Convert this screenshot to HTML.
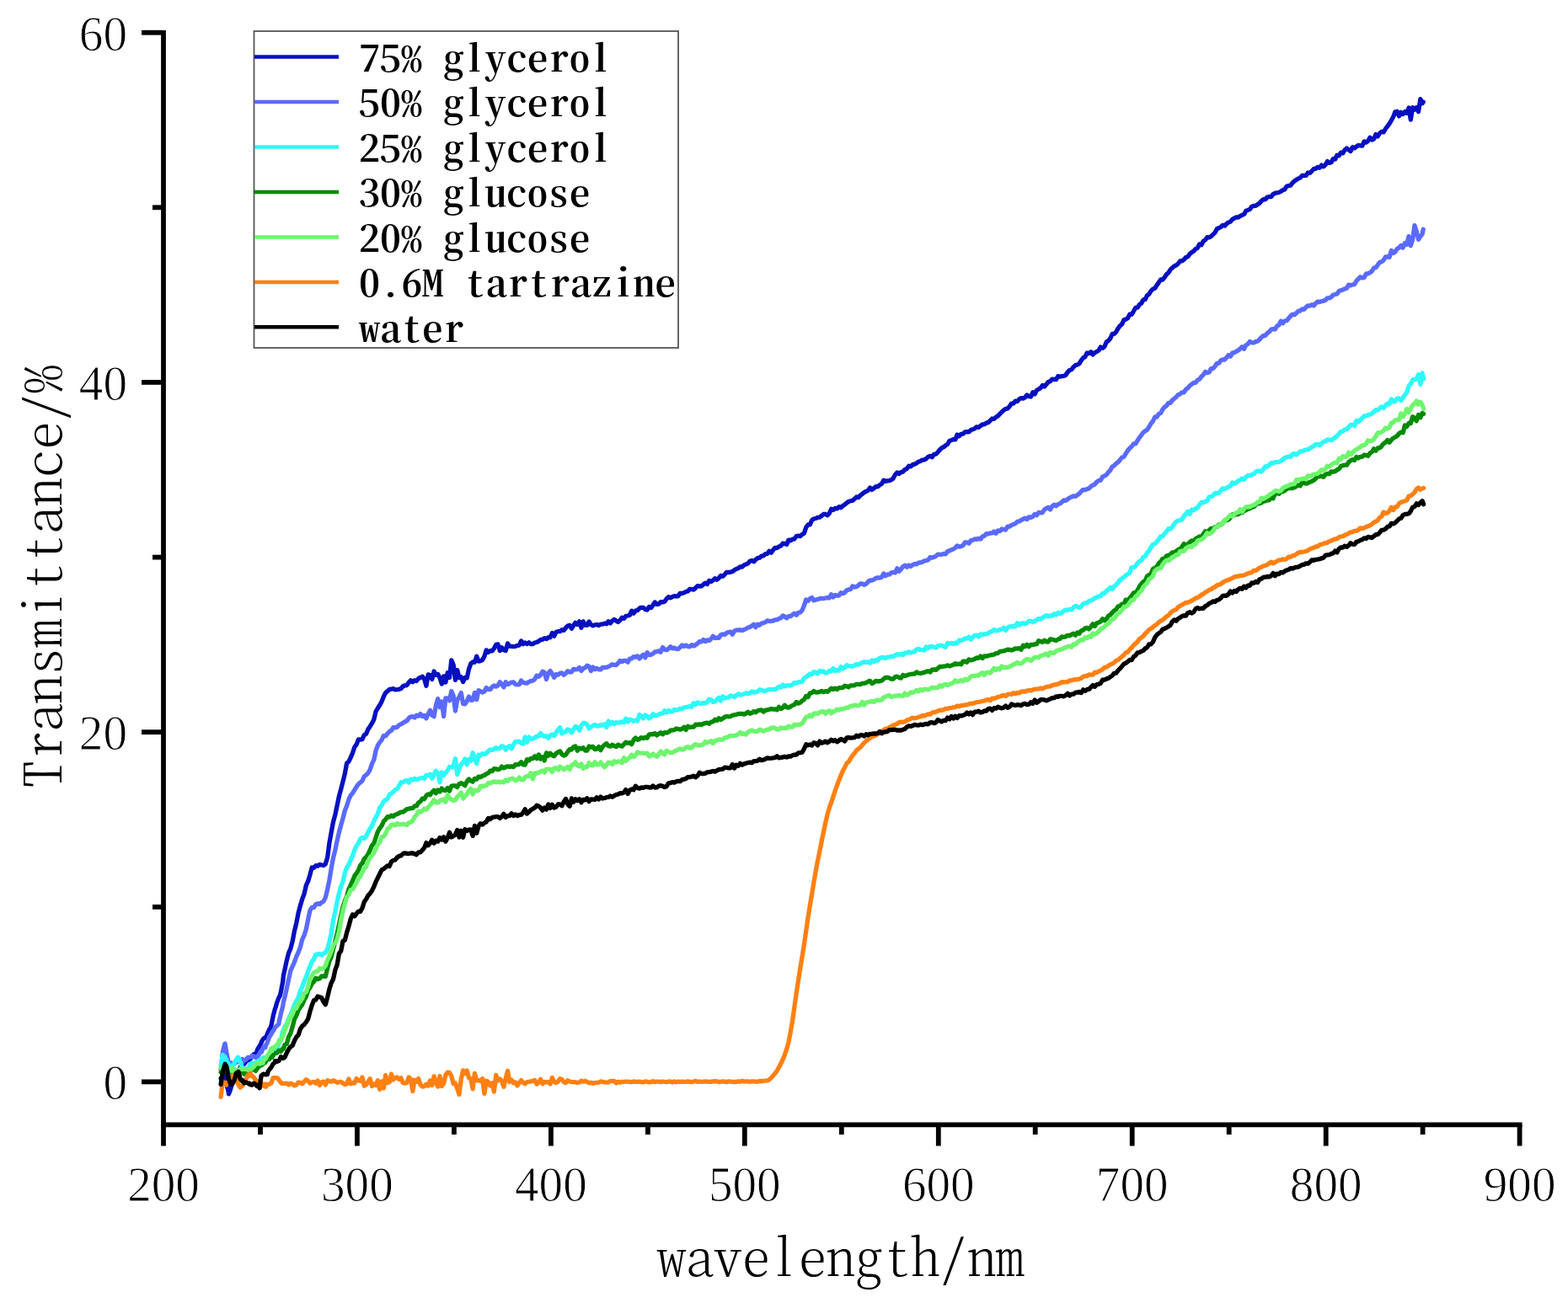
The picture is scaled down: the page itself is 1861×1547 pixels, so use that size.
<!DOCTYPE html>
<html><head><meta charset="utf-8"><title>Transmittance vs wavelength</title>
<style>
html,body{margin:0;padding:0;background:#fff;}
svg{display:block;}
.tick{font-family:"Liberation Serif","Noto Serif CJK SC",serif;fill:#000;stroke:#fff;stroke-width:1px;}
.title{font-family:"Noto Serif CJK SC","Liberation Serif",serif;font-feature-settings:"hwid";fill:#000;font-weight:250;}
.leg{font-family:"Noto Serif CJK SC","Liberation Serif",serif;font-feature-settings:"hwid";fill:#000;font-weight:600;}
</style></head><body>
<svg width="1861" height="1547" viewBox="0 0 1861 1547">
<rect width="1861" height="1547" fill="#fff"/>

<g fill="none" stroke-width="5.3" stroke-linejoin="round" stroke-linecap="round">
<polyline stroke="#0610c0" points="262.1,1280.4 264.4,1277.4 266.0,1276.7 266.7,1275.3 269.0,1287.7 271.3,1297.2 271.5,1298.8 273.6,1293.2 275.9,1284.7 277.0,1277.9 278.2,1280.1 280.5,1273.7 282.8,1271.3 285.1,1267.2 287.4,1264.1 288.0,1264.6 289.7,1263.4 292.0,1260.1 294.3,1258.5 296.6,1258.2 298.9,1254.4 301.2,1251.7 303.5,1251.9 304.5,1249.3 305.8,1245.5 308.1,1242.0 310.0,1238.6 310.4,1236.9 312.7,1233.0 315.0,1231.7 315.4,1232.2 317.3,1227.4 319.6,1222.2 320.9,1220.5 321.9,1217.7 324.2,1206.2 326.5,1197.4 327.0,1196.4 328.8,1190.1 331.1,1184.1 332.4,1181.9 333.4,1177.4 335.7,1165.3 336.4,1158.2 338.0,1151.1 340.3,1140.3 342.6,1131.3 344.9,1126.2 347.2,1117.4 349.5,1105.1 351.8,1095.8 354.1,1083.9 356.4,1075.2 358.7,1067.5 361.0,1061.4 363.3,1051.3 365.6,1046.2 367.9,1038.7 370.2,1029.9 372.5,1030.3 374.8,1027.7 377.1,1028.2 379.4,1026.4 381.7,1027.0 384.0,1027.5 386.3,1025.6 388.6,1018.3 390.9,1000.9 393.2,988.2 395.5,975.7 397.8,967.4 400.1,956.5 402.4,945.4 404.7,936.9 407.0,927.9 409.3,918.7 411.6,906.1 413.9,904.2 416.2,899.4 418.5,894.0 420.8,887.0 423.1,883.9 425.4,877.9 427.7,878.2 430.0,877.6 432.3,872.7 434.6,871.3 436.9,865.8 439.2,862.4 441.5,858.7 443.8,854.2 446.1,844.7 448.4,840.7 450.7,837.1 453.0,833.0 455.3,827.1 457.6,822.5 459.9,820.6 462.2,818.5 464.5,818.2 466.8,817.6 469.1,818.8 471.4,818.7 473.7,818.3 476.0,817.5 478.3,814.8 480.6,813.8 482.9,813.6 485.2,810.3 487.5,807.7 489.8,809.7 492.1,807.7 494.4,808.5 496.7,805.5 499.0,804.5 501.3,803.2 503.6,806.0 505.9,814.2 508.2,800.9 510.5,801.5 512.8,806.5 515.1,797.0 517.4,801.4 519.7,800.5 522.0,804.8 524.3,812.0 526.6,802.9 528.9,810.1 531.2,798.7 533.5,804.6 535.8,783.9 538.1,789.2 540.4,807.4 542.7,795.5 545.0,804.7 547.3,803.8 549.6,809.6 551.9,804.5 554.2,805.0 556.5,794.3 558.8,787.9 561.1,786.0 563.4,786.3 565.7,779.2 568.0,785.1 570.3,784.6 572.6,783.5 574.9,779.3 577.2,771.9 579.5,774.5 581.8,772.7 584.1,772.9 586.4,769.8 588.7,765.4 591.0,764.9 593.3,772.6 595.6,768.8 597.9,771.8 600.2,772.5 602.5,763.9 604.8,767.3 607.1,767.4 609.4,767.6 611.7,767.4 614.0,766.3 616.3,766.0 618.6,760.9 620.9,764.6 623.2,762.9 625.5,764.5 627.8,762.8 630.1,764.7 632.4,764.6 634.7,763.0 637.0,762.5 639.3,761.4 641.6,759.5 643.9,759.4 646.2,757.7 648.5,758.6 650.8,756.7 653.1,756.8 655.4,751.5 657.7,755.2 660.0,750.5 662.3,749.6 664.6,749.7 666.9,747.7 669.2,748.4 671.5,745.3 673.8,743.0 676.1,742.4 678.4,746.2 680.7,742.6 683.0,739.3 685.3,741.5 687.6,737.9 689.9,745.3 692.2,737.9 694.5,742.3 696.8,742.4 699.1,738.0 701.4,741.7 703.7,742.8 706.0,741.9 708.3,741.5 710.6,742.6 712.9,741.2 715.2,741.2 717.5,740.1 719.8,740.8 722.1,737.7 724.4,739.9 726.7,737.1 729.0,735.4 731.3,737.0 733.6,738.5 735.9,736.5 738.2,733.3 740.5,734.4 742.8,731.5 745.1,731.0 747.4,730.3 749.7,725.2 752.0,728.2 754.3,725.1 756.6,724.6 758.9,722.3 761.2,721.3 763.5,721.4 765.8,723.5 768.1,724.1 770.4,720.5 772.7,721.6 775.0,718.5 777.3,715.0 779.6,717.5 781.9,717.1 784.2,714.7 786.5,714.9 788.8,714.3 791.1,710.9 793.4,708.8 795.7,709.8 798.0,708.7 800.3,707.6 802.6,708.0 804.9,707.7 807.2,704.3 809.5,704.5 811.8,703.8 814.1,702.5 816.4,701.9 818.7,699.4 821.0,699.7 823.3,700.2 825.6,698.0 827.9,695.6 830.2,696.0 832.5,695.9 834.8,694.0 837.1,692.1 839.4,693.5 841.7,689.5 844.0,690.5 846.3,689.0 848.6,686.7 850.9,688.3 853.2,686.3 855.5,683.5 857.8,684.3 860.1,682.1 862.4,679.3 864.7,679.5 867.0,679.3 869.3,678.5 871.6,676.8 873.9,675.5 876.2,674.8 878.5,672.8 880.8,673.2 883.1,670.9 885.4,669.9 887.7,669.1 890.0,666.2 892.3,665.5 894.6,666.8 896.9,664.4 899.2,662.6 901.5,662.2 903.8,660.1 906.1,659.8 908.4,657.6 910.7,657.5 913.0,654.2 915.3,656.2 917.6,652.9 919.9,650.4 922.2,650.6 924.5,649.0 926.8,648.1 929.1,645.2 931.4,645.5 933.7,646.4 936.0,641.1 938.3,641.8 940.6,640.2 942.9,639.8 945.2,636.6 947.5,636.2 949.8,636.6 952.1,634.4 954.4,633.1 956.7,626.1 959.0,623.0 961.3,622.9 963.6,617.7 965.9,616.0 968.2,615.5 970.5,614.3 972.8,614.2 975.1,612.4 977.4,610.4 979.7,610.5 982.0,611.8 984.3,609.5 986.6,604.3 988.9,605.5 991.2,603.5 993.5,603.8 995.8,601.7 998.1,602.7 1000.4,600.4 1002.7,599.0 1005.0,597.0 1007.3,595.5 1009.6,594.6 1011.9,594.4 1014.2,592.3 1016.5,590.0 1018.8,590.6 1021.1,588.1 1023.4,586.5 1025.7,584.5 1028.0,583.5 1030.3,582.2 1032.6,579.0 1034.9,581.5 1037.2,579.7 1039.5,577.6 1041.8,577.8 1044.1,575.8 1046.4,574.5 1048.7,570.2 1051.0,571.3 1053.3,570.8 1055.6,570.7 1057.9,569.6 1060.2,567.8 1062.5,563.5 1064.8,561.0 1067.1,562.6 1069.4,560.6 1071.7,560.1 1074.0,557.5 1076.3,556.5 1078.6,553.2 1080.9,553.9 1083.2,551.6 1085.5,551.2 1087.8,550.0 1090.1,548.2 1092.4,547.5 1094.7,546.1 1097.0,545.9 1099.3,544.6 1101.6,542.4 1103.9,541.3 1106.2,542.7 1108.5,539.4 1110.8,539.2 1113.1,536.9 1115.4,534.0 1117.7,531.8 1120.0,530.8 1122.3,528.9 1124.6,527.4 1126.9,523.5 1129.2,522.6 1131.5,521.6 1133.8,521.9 1136.1,516.1 1138.4,517.8 1140.7,515.3 1143.0,515.1 1145.3,512.8 1147.6,512.6 1149.9,512.8 1152.2,510.6 1154.5,509.8 1156.8,508.9 1159.1,506.8 1161.4,507.4 1163.7,505.7 1166.0,504.0 1168.3,503.7 1170.6,502.2 1172.9,501.7 1175.2,499.3 1177.5,497.0 1179.8,497.5 1182.1,495.2 1184.4,493.8 1186.7,491.4 1189.0,489.0 1191.3,487.0 1193.6,485.4 1195.9,485.1 1198.2,482.5 1200.5,479.1 1202.8,479.2 1205.1,476.2 1207.4,476.6 1209.7,473.9 1212.0,472.7 1214.3,473.1 1216.6,471.8 1218.9,469.0 1221.2,470.6 1223.5,471.0 1225.8,465.7 1228.1,467.9 1230.4,463.5 1232.7,462.1 1235.0,460.7 1237.3,457.5 1239.6,458.9 1241.9,456.3 1244.2,453.5 1246.5,452.7 1248.8,450.1 1251.1,450.3 1253.4,450.7 1255.7,446.7 1258.0,447.1 1260.3,446.6 1262.6,446.4 1264.9,445.3 1267.2,441.7 1269.5,439.5 1271.8,438.7 1274.1,435.7 1276.4,433.6 1278.7,433.0 1281.0,431.7 1283.3,427.8 1285.6,424.9 1287.9,423.6 1290.2,419.0 1292.5,419.7 1294.8,417.8 1297.1,421.0 1299.4,418.7 1301.7,417.5 1304.0,416.1 1306.3,412.1 1308.6,413.2 1310.9,411.6 1313.2,406.0 1315.5,404.5 1317.8,401.7 1320.1,396.5 1322.4,396.4 1324.7,394.0 1327.0,389.9 1329.3,386.8 1331.6,384.9 1333.9,379.7 1336.2,379.1 1338.5,377.8 1340.8,373.1 1343.1,373.3 1345.4,369.6 1347.7,365.4 1350.0,365.2 1352.3,361.6 1354.6,360.3 1356.9,355.9 1359.2,355.5 1361.5,350.7 1363.8,349.2 1366.1,345.4 1368.4,343.1 1370.7,342.2 1373.0,338.6 1375.3,335.4 1377.6,331.9 1379.9,332.1 1382.2,329.2 1384.5,325.7 1386.8,323.9 1389.1,320.2 1391.4,317.9 1393.7,315.9 1396.0,315.0 1398.3,313.0 1400.6,310.0 1402.9,309.8 1405.2,308.1 1407.5,305.6 1409.8,304.8 1412.1,301.4 1414.4,299.6 1416.7,298.2 1419.0,295.5 1421.3,294.3 1423.6,289.9 1425.9,290.8 1428.2,286.3 1430.5,285.0 1432.8,281.7 1435.1,281.8 1437.4,280.6 1439.7,278.4 1442.0,276.2 1444.3,271.8 1446.6,270.8 1448.9,269.5 1451.2,267.3 1453.5,268.1 1455.8,265.6 1458.1,264.0 1460.4,263.2 1462.7,260.3 1465.0,259.1 1467.3,257.8 1469.6,258.0 1471.9,256.5 1474.2,255.3 1476.5,254.4 1478.8,250.2 1481.1,249.4 1483.4,248.5 1485.7,245.2 1488.0,244.4 1490.3,244.4 1492.6,242.8 1494.9,241.2 1497.2,238.5 1499.5,236.7 1501.8,236.8 1504.1,234.0 1506.4,233.6 1508.7,233.5 1511.0,230.6 1513.3,229.3 1515.6,228.9 1517.9,228.5 1520.2,227.2 1522.5,225.7 1524.8,224.9 1527.1,221.2 1529.4,220.5 1531.7,220.1 1534.0,217.2 1536.3,215.0 1538.6,213.4 1540.9,212.0 1543.2,211.1 1545.5,208.5 1547.8,208.3 1550.1,208.4 1552.4,205.0 1554.7,205.4 1557.0,203.1 1559.3,200.4 1561.6,200.3 1563.9,198.4 1566.2,199.3 1568.5,196.1 1570.8,197.7 1573.1,195.7 1575.4,191.6 1577.7,193.4 1580.0,192.8 1582.3,188.6 1584.6,189.0 1586.9,184.2 1589.2,184.8 1591.5,181.1 1593.8,181.8 1596.1,177.9 1598.4,175.9 1600.7,177.9 1603.0,179.5 1605.3,174.7 1607.6,175.8 1609.9,174.0 1612.2,172.5 1614.5,172.8 1616.8,173.1 1619.1,167.9 1621.4,169.0 1623.7,167.3 1626.0,163.3 1628.3,166.0 1630.6,165.0 1632.9,159.6 1635.2,161.9 1637.5,158.2 1639.8,156.3 1642.1,156.8 1644.4,153.0 1646.7,149.9 1649.0,146.9 1651.3,143.0 1653.6,138.8 1655.9,132.8 1658.2,132.2 1660.5,137.9 1662.8,133.3 1665.1,135.5 1667.4,132.6 1669.7,134.3 1672.0,128.1 1674.3,142.1 1676.6,127.7 1678.9,130.1 1681.2,127.6 1683.5,132.6 1685.8,117.7 1688.1,122.7 1689.2,121.0"/>
<polyline stroke="#5a6aff" points="262.1,1269.5 264.4,1248.6 266.7,1239.3 267.1,1239.1 269.0,1250.6 271.3,1262.2 271.5,1263.1 273.6,1261.9 275.9,1262.6 278.2,1263.1 280.0,1261.0 280.5,1261.5 282.8,1257.5 285.1,1259.6 287.4,1257.5 288.0,1260.9 289.7,1259.0 292.0,1257.9 294.3,1255.3 296.6,1255.2 298.9,1254.9 299.0,1253.5 301.2,1254.0 303.5,1255.7 304.5,1255.2 305.8,1254.3 308.1,1250.8 309.3,1248.3 310.4,1249.0 312.7,1243.2 315.0,1243.7 315.4,1241.1 317.3,1237.7 319.6,1231.4 321.9,1227.8 322.9,1225.7 324.2,1224.1 326.5,1219.9 328.8,1217.5 331.0,1215.5 331.1,1213.3 333.4,1203.4 335.7,1194.4 336.4,1189.8 338.0,1183.8 340.3,1173.7 342.6,1162.8 344.9,1152.4 347.2,1147.2 349.5,1142.1 351.8,1135.6 354.1,1130.7 356.4,1124.5 358.7,1115.3 361.0,1110.6 363.3,1103.3 365.6,1091.9 367.9,1081.1 370.2,1077.4 372.5,1077.3 374.8,1073.5 377.1,1072.8 379.4,1073.5 381.7,1071.3 384.0,1070.1 386.3,1065.6 388.6,1056.1 390.9,1045.0 393.2,1030.9 395.5,1018.5 397.8,1009.3 400.1,998.3 402.4,988.0 404.7,979.5 407.0,971.5 409.3,962.5 411.6,956.8 413.9,949.2 416.2,944.3 418.5,941.7 420.8,937.8 423.1,934.1 425.4,931.0 427.7,928.9 430.0,926.9 432.3,921.8 434.6,920.0 436.9,917.8 439.2,913.8 441.5,906.6 443.8,902.1 446.1,891.2 448.4,884.9 450.7,881.4 453.0,878.6 455.3,873.5 457.6,873.9 459.9,871.0 462.2,868.5 464.5,867.4 466.8,863.7 469.1,863.9 471.4,863.3 473.7,860.8 476.0,859.7 478.3,858.4 480.6,856.8 482.9,855.8 485.2,852.7 487.5,850.9 489.8,850.7 492.1,852.1 494.4,849.3 496.7,850.1 499.0,847.6 501.3,850.5 503.6,849.4 505.9,852.9 508.2,847.4 510.5,843.2 512.8,849.3 515.1,850.6 517.4,837.4 519.7,829.6 522.0,839.7 524.3,833.0 526.6,850.5 528.9,828.8 531.2,829.1 533.5,831.9 535.8,820.6 538.1,826.0 540.4,844.0 542.7,831.1 545.0,827.5 547.3,822.6 549.6,835.6 551.9,835.8 554.2,832.4 556.5,827.1 558.8,831.3 561.1,831.0 563.4,822.4 565.7,830.6 568.0,819.8 570.3,820.8 572.6,822.0 574.9,820.9 577.2,816.5 579.5,818.4 581.8,818.6 584.1,815.6 586.4,814.0 588.7,815.1 591.0,813.9 593.3,809.9 595.6,812.1 597.9,815.8 600.2,809.7 602.5,812.6 604.8,811.5 607.1,810.1 609.4,809.8 611.7,812.5 614.0,812.9 616.3,812.7 618.6,808.0 620.9,810.3 623.2,810.8 625.5,811.1 627.8,809.4 630.1,808.6 632.4,808.1 634.7,806.4 637.0,802.0 639.3,803.3 641.6,801.2 643.9,797.2 646.2,798.4 648.5,806.5 650.8,799.2 653.1,796.5 655.4,799.9 657.7,804.3 660.0,800.6 662.3,801.2 664.6,799.3 666.9,799.0 669.2,801.3 671.5,799.4 673.8,796.7 676.1,798.0 678.4,797.7 680.7,794.3 683.0,794.9 685.3,794.6 687.6,792.5 689.9,796.5 692.2,793.6 694.5,792.6 696.8,790.3 699.1,791.2 701.4,796.5 703.7,792.1 706.0,794.7 708.3,793.4 710.6,794.8 712.9,794.9 715.2,792.3 717.5,792.5 719.8,792.4 722.1,791.5 724.4,790.3 726.7,788.8 729.0,789.3 731.3,789.5 733.6,787.3 735.9,784.4 738.2,785.6 740.5,784.4 742.8,784.4 745.1,786.1 747.4,782.1 749.7,781.8 752.0,779.7 754.3,780.1 756.6,779.0 758.9,782.0 761.2,779.3 763.5,777.2 765.8,780.7 768.1,774.7 770.4,777.7 772.7,777.3 775.0,776.0 777.3,774.0 779.6,773.7 781.9,772.8 784.2,774.2 786.5,768.6 788.8,771.1 791.1,771.8 793.4,770.2 795.7,767.7 798.0,769.9 800.3,769.1 802.6,770.3 804.9,770.6 807.2,768.6 809.5,766.0 811.8,767.4 814.1,766.1 816.4,767.3 818.7,767.8 821.0,765.6 823.3,766.9 825.6,765.6 827.9,764.0 830.2,761.6 832.5,762.0 834.8,759.6 837.1,761.6 839.4,759.8 841.7,760.5 844.0,758.5 846.3,755.4 848.6,757.5 850.9,757.2 853.2,757.3 855.5,753.7 857.8,753.0 860.1,753.4 862.4,751.5 864.7,750.5 867.0,750.1 869.3,753.1 871.6,749.2 873.9,748.1 876.2,748.0 878.5,747.8 880.8,748.6 883.1,747.5 885.4,746.6 887.7,745.1 890.0,744.6 892.3,743.0 894.6,741.4 896.9,744.6 899.2,741.2 901.5,742.2 903.8,740.0 906.1,739.6 908.4,738.8 910.7,736.8 913.0,737.5 915.3,737.3 917.6,737.0 919.9,735.9 922.2,735.9 924.5,734.5 926.8,733.7 929.1,731.0 931.4,732.0 933.7,733.8 936.0,731.6 938.3,731.6 940.6,729.7 942.9,728.3 945.2,730.3 947.5,727.3 949.8,727.1 952.1,724.5 954.4,718.8 956.7,711.9 959.0,713.4 961.3,710.9 963.6,709.6 965.9,712.9 968.2,712.0 970.5,711.6 972.8,710.7 975.1,710.3 977.4,710.6 979.7,710.0 982.0,709.6 984.3,709.9 986.6,705.8 988.9,708.9 991.2,706.5 993.5,707.3 995.8,706.8 998.1,703.7 1000.4,704.5 1002.7,703.5 1005.0,700.8 1007.3,700.0 1009.6,699.7 1011.9,696.0 1014.2,697.0 1016.5,696.7 1018.8,695.0 1021.1,692.8 1023.4,693.2 1025.7,694.4 1028.0,693.2 1030.3,690.7 1032.6,689.0 1034.9,689.0 1037.2,688.1 1039.5,686.4 1041.8,685.9 1044.1,686.0 1046.4,685.4 1048.7,680.9 1051.0,683.7 1053.3,681.8 1055.6,682.1 1057.9,679.9 1060.2,679.5 1062.5,680.0 1064.8,674.7 1067.1,678.2 1069.4,675.8 1071.7,672.7 1074.0,671.3 1076.3,673.3 1078.6,671.0 1080.9,672.4 1083.2,670.7 1085.5,669.5 1087.8,669.9 1090.1,668.2 1092.4,668.0 1094.7,667.3 1097.0,665.9 1099.3,665.6 1101.6,664.8 1103.9,661.7 1106.2,662.1 1108.5,661.4 1110.8,660.3 1113.1,658.1 1115.4,658.3 1117.7,658.4 1120.0,657.4 1122.3,657.9 1124.6,654.6 1126.9,653.9 1129.2,652.7 1131.5,651.9 1133.8,650.4 1136.1,647.9 1138.4,649.1 1140.7,648.6 1143.0,647.5 1145.3,644.0 1147.6,643.9 1149.9,645.1 1152.2,641.9 1154.5,641.4 1156.8,639.9 1159.1,640.3 1161.4,639.3 1163.7,640.0 1166.0,637.1 1168.3,636.3 1170.6,633.7 1172.9,633.9 1175.2,633.0 1177.5,632.8 1179.8,631.1 1182.1,633.2 1184.4,630.0 1186.7,630.6 1189.0,628.0 1191.3,628.7 1193.6,629.0 1195.9,625.1 1198.2,625.1 1200.5,623.4 1202.8,622.6 1205.1,621.6 1207.4,619.4 1209.7,618.9 1212.0,617.5 1214.3,616.4 1216.6,615.1 1218.9,616.6 1221.2,613.8 1223.5,614.4 1225.8,613.3 1228.1,610.5 1230.4,611.7 1232.7,608.4 1235.0,608.8 1237.3,608.5 1239.6,604.9 1241.9,603.5 1244.2,602.4 1246.5,605.0 1248.8,601.1 1251.1,599.2 1253.4,600.7 1255.7,598.7 1258.0,598.0 1260.3,596.1 1262.6,593.8 1264.9,594.3 1267.2,592.8 1269.5,590.9 1271.8,590.1 1274.1,588.8 1276.4,589.3 1278.7,587.7 1281.0,586.0 1283.3,583.4 1285.6,581.3 1287.9,581.7 1290.2,580.6 1292.5,579.9 1294.8,577.5 1297.1,576.0 1299.4,575.0 1301.7,572.1 1304.0,570.6 1306.3,570.2 1308.6,566.0 1310.9,565.1 1313.2,563.7 1315.5,560.6 1317.8,558.3 1320.1,554.1 1322.4,552.8 1324.7,550.2 1327.0,548.7 1329.3,546.0 1331.6,543.0 1333.9,542.5 1336.2,538.5 1338.5,535.0 1340.8,532.1 1343.1,530.2 1345.4,527.0 1347.7,526.9 1350.0,523.2 1352.3,519.6 1354.6,516.6 1356.9,513.5 1359.2,511.6 1361.5,510.4 1363.8,506.8 1366.1,502.8 1368.4,500.0 1370.7,495.0 1373.0,495.1 1375.3,491.4 1377.6,490.5 1379.9,486.1 1382.2,483.3 1384.5,481.6 1386.8,478.4 1389.1,478.4 1391.4,475.1 1393.7,473.2 1396.0,471.3 1398.3,468.7 1400.6,467.9 1402.9,465.8 1405.2,465.8 1407.5,462.2 1409.8,460.7 1412.1,458.0 1414.4,456.2 1416.7,454.5 1419.0,454.4 1421.3,451.2 1423.6,450.3 1425.9,447.1 1428.2,445.1 1430.5,441.5 1432.8,442.6 1435.1,442.0 1437.4,437.6 1439.7,437.5 1442.0,435.0 1444.3,431.5 1446.6,431.4 1448.9,427.9 1451.2,426.9 1453.5,427.1 1455.8,424.5 1458.1,421.6 1460.4,423.1 1462.7,419.0 1465.0,418.7 1467.3,417.1 1469.6,416.0 1471.9,414.0 1474.2,411.7 1476.5,414.2 1478.8,409.8 1481.1,408.5 1483.4,405.4 1485.7,406.9 1488.0,406.8 1490.3,405.6 1492.6,405.2 1494.9,403.0 1497.2,400.3 1499.5,398.5 1501.8,398.5 1504.1,395.4 1506.4,394.0 1508.7,391.1 1511.0,390.6 1513.3,391.0 1515.6,387.1 1517.9,385.9 1520.2,381.2 1522.5,383.7 1524.8,381.1 1527.1,380.7 1529.4,378.0 1531.7,375.3 1534.0,373.2 1536.3,373.8 1538.6,371.8 1540.9,369.3 1543.2,369.0 1545.5,367.0 1547.8,367.3 1550.1,364.8 1552.4,362.8 1554.7,363.1 1557.0,361.6 1559.3,362.9 1561.6,360.0 1563.9,358.2 1566.2,358.7 1568.5,357.6 1570.8,357.3 1573.1,356.3 1575.4,353.9 1577.7,353.9 1580.0,352.6 1582.3,350.2 1584.6,349.5 1586.9,349.0 1589.2,345.6 1591.5,344.8 1593.8,344.0 1596.1,342.9 1598.4,342.1 1600.7,338.1 1603.0,338.9 1605.3,337.9 1607.6,337.6 1609.9,333.4 1612.2,331.2 1614.5,328.7 1616.8,330.0 1619.1,329.4 1621.4,325.0 1623.7,324.9 1626.0,323.7 1628.3,322.0 1630.6,318.2 1632.9,317.7 1635.2,314.6 1637.5,311.3 1639.8,310.8 1642.1,308.9 1644.4,305.0 1646.7,305.0 1649.0,305.4 1651.3,297.5 1653.6,300.4 1655.9,299.0 1658.2,295.3 1660.5,294.2 1662.8,291.6 1665.1,294.1 1667.4,288.6 1669.7,290.2 1672.0,280.7 1674.3,291.6 1676.6,284.5 1678.9,267.7 1681.2,274.6 1683.5,284.4 1685.8,280.7 1688.1,277.8 1689.2,272.3"/>
<polyline stroke="#2ef8f8" points="262.1,1264.5 264.4,1252.4 266.0,1255.3 266.7,1254.4 269.0,1259.7 271.3,1263.6 273.6,1269.0 274.2,1266.7 275.9,1264.8 278.2,1262.3 280.5,1257.9 282.5,1255.2 282.8,1255.4 285.1,1260.6 287.4,1267.2 289.7,1270.7 290.7,1271.5 292.0,1268.9 294.3,1270.4 296.6,1263.6 298.9,1263.1 299.0,1261.8 301.2,1263.1 303.5,1262.0 305.8,1259.9 308.1,1261.1 310.0,1257.2 310.4,1260.1 312.7,1255.5 315.0,1257.0 317.3,1256.8 319.6,1254.2 320.9,1252.5 321.9,1251.1 324.2,1249.5 326.5,1248.7 328.8,1245.0 331.0,1239.6 331.1,1238.1 333.4,1234.4 335.7,1224.0 336.4,1223.3 338.0,1218.9 340.3,1215.4 342.6,1209.4 344.9,1204.6 347.2,1199.2 349.5,1192.6 351.8,1188.7 354.1,1184.2 356.4,1176.5 358.7,1171.6 361.0,1164.8 363.3,1160.2 365.6,1153.3 367.9,1147.5 370.2,1141.6 372.5,1138.6 374.8,1133.3 377.1,1133.0 379.4,1132.4 381.7,1134.0 384.0,1132.0 386.3,1130.8 388.6,1126.6 390.9,1118.1 393.2,1108.0 395.5,1092.9 397.8,1082.5 400.1,1070.6 402.4,1060.4 404.7,1052.2 407.0,1046.7 409.3,1036.4 411.6,1029.8 413.9,1026.7 416.2,1021.0 418.5,1015.9 420.8,1009.1 423.1,1004.3 425.4,1001.1 427.7,996.0 430.0,994.3 432.3,995.4 434.6,992.8 436.9,988.1 439.2,983.8 441.5,980.4 443.8,974.7 446.1,970.2 448.4,966.2 450.7,958.9 453.0,956.1 455.3,951.6 457.6,949.7 459.9,948.5 462.2,943.4 464.5,942.2 466.8,940.0 469.1,937.7 471.4,936.5 473.7,933.1 476.0,928.7 478.3,928.8 480.6,927.2 482.9,926.4 485.2,929.1 487.5,925.1 489.8,926.0 492.1,924.4 494.4,925.7 496.7,924.7 499.0,924.0 501.3,923.4 503.6,924.3 505.9,920.6 508.2,920.7 510.5,919.3 512.8,924.2 515.1,919.4 517.4,915.4 519.7,917.4 522.0,928.8 524.3,917.0 526.6,920.3 528.9,917.6 531.2,914.5 533.5,910.5 535.8,911.0 538.1,909.9 540.4,900.7 542.7,919.7 545.0,912.3 547.3,907.5 549.6,904.9 551.9,901.1 554.2,907.6 556.5,901.4 558.8,903.1 561.1,893.8 563.4,900.5 565.7,906.6 568.0,896.3 570.3,896.9 572.6,894.7 574.9,895.4 577.2,894.3 579.5,891.9 581.8,890.0 584.1,890.5 586.4,889.4 588.7,887.7 591.0,888.8 593.3,888.3 595.6,885.8 597.9,886.6 600.2,890.1 602.5,887.3 604.8,885.8 607.1,888.9 609.4,884.0 611.7,880.6 614.0,880.7 616.3,880.5 618.6,882.3 620.9,883.1 623.2,875.1 625.5,881.3 627.8,875.1 630.1,877.3 632.4,876.8 634.7,875.9 637.0,874.2 639.3,874.0 641.6,870.6 643.9,873.2 646.2,874.3 648.5,873.7 650.8,876.4 653.1,873.2 655.4,872.0 657.7,873.7 660.0,870.1 662.3,866.3 664.6,863.7 666.9,871.0 669.2,868.9 671.5,869.0 673.8,865.9 676.1,866.9 678.4,869.8 680.7,866.0 683.0,862.4 685.3,863.5 687.6,867.2 689.9,861.5 692.2,858.5 694.5,858.4 696.8,860.4 699.1,864.9 701.4,863.1 703.7,861.5 706.0,860.4 708.3,862.1 710.6,861.8 712.9,860.8 715.2,861.0 717.5,859.7 719.8,863.5 722.1,856.1 724.4,859.7 726.7,857.3 729.0,859.6 731.3,857.6 733.6,858.0 735.9,857.8 738.2,856.8 740.5,857.7 742.8,853.2 745.1,856.6 747.4,854.2 749.7,854.8 752.0,856.2 754.3,855.0 756.6,856.0 758.9,848.6 761.2,850.2 763.5,853.0 765.8,849.1 768.1,850.3 770.4,853.0 772.7,851.2 775.0,847.7 777.3,849.6 779.6,849.4 781.9,848.0 784.2,847.2 786.5,847.1 788.8,843.8 791.1,845.9 793.4,843.5 795.7,845.2 798.0,844.7 800.3,842.4 802.6,843.4 804.9,842.5 807.2,841.5 809.5,841.7 811.8,840.0 814.1,839.5 816.4,839.3 818.7,838.5 821.0,839.3 823.3,834.8 825.6,836.5 827.9,834.0 830.2,835.1 832.5,835.3 834.8,834.4 837.1,834.9 839.4,833.6 841.7,830.2 844.0,830.9 846.3,833.3 848.6,832.8 850.9,830.7 853.2,828.4 855.5,832.0 857.8,826.8 860.1,829.0 862.4,828.1 864.7,828.0 867.0,826.0 869.3,826.4 871.6,827.6 873.9,825.4 876.2,824.0 878.5,825.0 880.8,824.7 883.1,824.0 885.4,822.8 887.7,823.8 890.0,822.6 892.3,821.0 894.6,822.1 896.9,821.4 899.2,821.2 901.5,818.7 903.8,819.3 906.1,820.2 908.4,820.3 910.7,819.2 913.0,818.5 915.3,818.6 917.6,818.4 919.9,818.8 922.2,816.9 924.5,815.4 926.8,816.1 929.1,813.1 931.4,814.9 933.7,813.9 936.0,813.9 938.3,813.9 940.6,812.9 942.9,810.6 945.2,811.1 947.5,809.8 949.8,809.7 952.1,809.1 954.4,805.1 956.7,803.6 959.0,802.4 961.3,800.0 963.6,800.5 965.9,797.6 968.2,798.3 970.5,799.7 972.8,796.4 975.1,797.6 977.4,796.9 979.7,798.9 982.0,798.6 984.3,796.4 986.6,796.8 988.9,793.6 991.2,796.6 993.5,795.5 995.8,796.1 998.1,791.5 1000.4,793.8 1002.7,792.5 1005.0,789.7 1007.3,790.9 1009.6,790.9 1011.9,791.3 1014.2,790.0 1016.5,788.6 1018.8,789.1 1021.1,787.9 1023.4,786.7 1025.7,785.7 1028.0,786.4 1030.3,785.8 1032.6,787.1 1034.9,784.0 1037.2,785.7 1039.5,783.7 1041.8,784.0 1044.1,781.2 1046.4,780.6 1048.7,780.7 1051.0,781.5 1053.3,780.1 1055.6,780.2 1057.9,779.2 1060.2,779.5 1062.5,778.0 1064.8,776.7 1067.1,777.3 1069.4,776.4 1071.7,777.7 1074.0,775.1 1076.3,774.9 1078.6,774.0 1080.9,775.1 1083.2,774.3 1085.5,773.6 1087.8,771.0 1090.1,770.2 1092.4,771.7 1094.7,771.7 1097.0,772.1 1099.3,768.1 1101.6,769.5 1103.9,767.4 1106.2,767.7 1108.5,768.1 1110.8,769.0 1113.1,766.9 1115.4,766.3 1117.7,766.2 1120.0,767.5 1122.3,768.2 1124.6,763.4 1126.9,764.2 1129.2,763.5 1131.5,764.6 1133.8,763.1 1136.1,763.7 1138.4,760.2 1140.7,760.6 1143.0,759.3 1145.3,757.9 1147.6,758.2 1149.9,756.3 1152.2,759.2 1154.5,756.6 1156.8,754.3 1159.1,754.1 1161.4,756.0 1163.7,752.9 1166.0,753.6 1168.3,752.9 1170.6,752.9 1172.9,751.8 1175.2,750.3 1177.5,749.4 1179.8,747.5 1182.1,748.9 1184.4,748.5 1186.7,747.4 1189.0,747.1 1191.3,745.4 1193.6,748.5 1195.9,745.0 1198.2,743.8 1200.5,743.6 1202.8,743.4 1205.1,743.8 1207.4,739.7 1209.7,742.2 1212.0,740.2 1214.3,740.0 1216.6,740.6 1218.9,739.6 1221.2,737.3 1223.5,737.3 1225.8,738.7 1228.1,737.4 1230.4,736.2 1232.7,734.5 1235.0,734.9 1237.3,733.6 1239.6,731.9 1241.9,730.7 1244.2,731.8 1246.5,731.0 1248.8,731.2 1251.1,728.7 1253.4,730.1 1255.7,727.5 1258.0,728.6 1260.3,727.2 1262.6,725.2 1264.9,724.1 1267.2,724.3 1269.5,723.3 1271.8,723.9 1274.1,721.2 1276.4,719.5 1278.7,720.2 1281.0,721.4 1283.3,720.1 1285.6,716.7 1287.9,716.0 1290.2,715.7 1292.5,713.6 1294.8,713.0 1297.1,711.9 1299.4,709.9 1301.7,709.2 1304.0,708.1 1306.3,707.6 1308.6,704.6 1310.9,704.4 1313.2,701.5 1315.5,699.8 1317.8,697.5 1320.1,699.4 1322.4,696.2 1324.7,694.3 1327.0,691.8 1329.3,688.6 1331.6,687.0 1333.9,685.2 1336.2,683.3 1338.5,681.4 1340.8,680.2 1343.1,673.7 1345.4,673.4 1347.7,672.3 1350.0,668.6 1352.3,666.3 1354.6,665.5 1356.9,661.5 1359.2,660.6 1361.5,656.1 1363.8,653.8 1366.1,649.8 1368.4,646.2 1370.7,645.4 1373.0,643.4 1375.3,640.4 1377.6,636.8 1379.9,636.6 1382.2,633.5 1384.5,631.0 1386.8,627.7 1389.1,628.0 1391.4,625.5 1393.7,622.0 1396.0,619.4 1398.3,617.9 1400.6,617.7 1402.9,616.7 1405.2,612.4 1407.5,610.4 1409.8,607.3 1412.1,610.4 1414.4,605.0 1416.7,605.7 1419.0,603.7 1421.3,603.0 1423.6,599.0 1425.9,596.5 1428.2,596.8 1430.5,595.5 1432.8,594.6 1435.1,589.9 1437.4,589.7 1439.7,588.3 1442.0,585.6 1444.3,585.5 1446.6,585.1 1448.9,582.7 1451.2,579.8 1453.5,580.3 1455.8,579.5 1458.1,577.9 1460.4,576.9 1462.7,572.9 1465.0,574.0 1467.3,573.0 1469.6,570.8 1471.9,570.0 1474.2,568.1 1476.5,569.2 1478.8,566.4 1481.1,564.6 1483.4,564.7 1485.7,563.4 1488.0,562.9 1490.3,560.1 1492.6,559.1 1494.9,559.1 1497.2,560.0 1499.5,556.9 1501.8,553.7 1504.1,554.2 1506.4,552.0 1508.7,549.7 1511.0,549.8 1513.3,548.7 1515.6,548.6 1517.9,548.5 1520.2,547.2 1522.5,545.7 1524.8,543.3 1527.1,543.0 1529.4,541.8 1531.7,542.5 1534.0,539.3 1536.3,538.5 1538.6,539.9 1540.9,538.0 1543.2,535.9 1545.5,535.7 1547.8,534.8 1550.1,533.9 1552.4,533.7 1554.7,532.3 1557.0,530.8 1559.3,529.6 1561.6,527.3 1563.9,527.7 1566.2,528.5 1568.5,526.4 1570.8,524.4 1573.1,523.8 1575.4,522.0 1577.7,522.1 1580.0,522.8 1582.3,521.3 1584.6,519.4 1586.9,517.6 1589.2,515.0 1591.5,512.3 1593.8,512.1 1596.1,509.9 1598.4,509.6 1600.7,507.2 1603.0,504.5 1605.3,504.3 1607.6,505.4 1609.9,499.5 1612.2,500.9 1614.5,498.7 1616.8,496.3 1619.1,494.0 1621.4,493.8 1623.7,492.7 1626.0,492.2 1628.3,490.9 1630.6,489.1 1632.9,486.6 1635.2,486.9 1637.5,484.8 1639.8,482.9 1642.1,484.5 1644.4,481.2 1646.7,479.2 1649.0,479.7 1651.3,474.0 1653.6,476.8 1655.9,476.5 1658.2,473.1 1660.5,473.0 1662.8,475.6 1665.1,472.1 1667.4,469.0 1669.7,465.9 1672.0,458.3 1674.3,455.8 1676.6,451.1 1678.9,450.3 1681.2,450.0 1683.5,444.8 1685.8,456.3 1688.1,442.9 1689.6,449.8"/>
<polyline stroke="#008a00" points="262.1,1273.0 264.4,1270.7 266.7,1269.8 268.6,1268.8 269.0,1271.5 271.3,1273.7 273.6,1272.0 275.9,1272.7 278.2,1273.4 280.5,1270.8 282.8,1275.2 285.1,1270.8 287.4,1272.5 289.7,1275.2 292.0,1271.8 294.3,1272.2 295.7,1271.3 296.6,1272.4 298.9,1268.5 301.2,1269.6 303.5,1271.4 305.8,1267.8 308.1,1265.5 310.4,1264.6 312.0,1263.6 312.7,1262.7 315.0,1261.5 317.3,1256.5 319.6,1257.6 321.9,1253.9 322.9,1255.1 324.2,1253.0 326.5,1250.1 328.8,1250.0 331.1,1247.2 333.4,1248.3 335.7,1244.7 336.4,1245.2 338.0,1240.2 340.3,1239.4 342.6,1230.9 344.9,1226.7 347.2,1219.1 349.5,1209.8 351.8,1205.7 354.1,1199.4 356.4,1195.9 358.7,1192.7 361.0,1187.2 363.3,1183.4 365.6,1175.7 367.9,1172.6 370.2,1168.1 372.5,1165.5 374.8,1161.4 377.1,1162.5 379.4,1161.9 381.7,1158.9 384.0,1159.1 386.3,1159.3 388.6,1149.7 390.9,1141.0 393.2,1136.1 395.5,1126.9 397.8,1117.5 400.1,1108.8 402.4,1097.8 404.7,1086.8 407.0,1076.8 409.3,1069.5 411.6,1064.0 413.9,1055.6 416.2,1050.8 418.5,1045.7 420.8,1039.9 423.1,1036.9 425.4,1033.1 427.7,1027.1 430.0,1024.9 432.3,1019.5 434.6,1017.6 436.9,1014.3 439.2,1009.1 441.5,1003.7 443.8,1001.2 446.1,994.1 448.4,987.4 450.7,983.2 453.0,980.4 455.3,975.2 457.6,972.9 459.9,969.7 462.2,970.0 464.5,968.2 466.8,969.4 469.1,967.2 471.4,966.6 473.7,965.4 476.0,964.1 478.3,964.2 480.6,962.5 482.9,960.6 485.2,960.2 487.5,959.7 489.8,959.6 492.1,957.0 494.4,956.9 496.7,952.9 499.0,951.5 501.3,948.1 503.6,948.8 505.9,944.7 508.2,942.9 510.5,943.7 512.8,940.6 515.1,938.3 517.4,941.7 519.7,938.0 522.0,940.0 524.3,936.1 526.6,938.2 528.9,938.5 531.2,935.5 533.5,939.1 535.8,933.1 538.1,932.9 540.4,932.9 542.7,934.5 545.0,930.7 547.3,929.7 549.6,930.8 551.9,932.6 554.2,927.8 556.5,925.0 558.8,927.1 561.1,928.2 563.4,924.5 565.7,925.2 568.0,922.2 570.3,922.6 572.6,921.3 574.9,920.5 577.2,918.8 579.5,917.9 581.8,915.2 584.1,915.5 586.4,912.6 588.7,912.8 591.0,913.7 593.3,912.9 595.6,910.1 597.9,911.8 600.2,910.6 602.5,909.9 604.8,910.4 607.1,909.9 609.4,910.5 611.7,907.6 614.0,907.8 616.3,907.3 618.6,904.8 620.9,907.9 623.2,908.1 625.5,901.7 627.8,902.8 630.1,900.4 632.4,900.7 634.7,897.8 637.0,900.6 639.3,895.9 641.6,901.1 643.9,898.7 646.2,902.9 648.5,893.9 650.8,897.1 653.1,894.3 655.4,896.7 657.7,897.7 660.0,894.5 662.3,893.0 664.6,891.9 666.9,895.5 669.2,897.1 671.5,896.0 673.8,892.7 676.1,889.6 678.4,890.1 680.7,886.8 683.0,886.0 685.3,891.3 687.6,888.1 689.9,889.1 692.2,887.7 694.5,891.0 696.8,891.1 699.1,886.1 701.4,887.1 703.7,886.4 706.0,889.6 708.3,889.3 710.6,886.6 712.9,890.6 715.2,886.7 717.5,884.4 719.8,882.8 722.1,885.6 724.4,886.1 726.7,884.3 729.0,885.6 731.3,886.6 733.6,884.2 735.9,885.3 738.2,886.1 740.5,883.7 742.8,881.3 745.1,882.3 747.4,881.7 749.7,883.6 752.0,878.6 754.3,876.0 756.6,878.3 758.9,877.6 761.2,875.6 763.5,876.6 765.8,875.4 768.1,876.2 770.4,872.1 772.7,871.6 775.0,872.0 777.3,870.6 779.6,872.9 781.9,871.2 784.2,869.7 786.5,871.8 788.8,869.6 791.1,870.0 793.4,869.2 795.7,867.2 798.0,866.8 800.3,866.6 802.6,865.0 804.9,865.4 807.2,866.2 809.5,865.2 811.8,863.3 814.1,866.5 816.4,862.2 818.7,863.5 821.0,863.1 823.3,863.1 825.6,860.2 827.9,860.6 830.2,859.8 832.5,860.6 834.8,859.2 837.1,858.7 839.4,858.2 841.7,859.2 844.0,857.2 846.3,856.8 848.6,854.3 850.9,855.5 853.2,852.7 855.5,854.5 857.8,853.1 860.1,851.3 862.4,850.4 864.7,850.9 867.0,850.6 869.3,849.2 871.6,848.9 873.9,848.3 876.2,847.6 878.5,847.4 880.8,847.4 883.1,848.1 885.4,847.0 887.7,845.3 890.0,847.3 892.3,846.5 894.6,844.6 896.9,845.7 899.2,843.7 901.5,843.1 903.8,842.9 906.1,845.1 908.4,843.2 910.7,843.0 913.0,842.4 915.3,841.5 917.6,842.1 919.9,841.9 922.2,842.9 924.5,839.4 926.8,841.6 929.1,840.3 931.4,837.2 933.7,839.8 936.0,840.0 938.3,838.9 940.6,837.4 942.9,836.6 945.2,833.5 947.5,835.2 949.8,834.1 952.1,831.8 954.4,830.6 956.7,826.4 959.0,827.6 961.3,822.9 963.6,822.5 965.9,820.5 968.2,821.9 970.5,822.0 972.8,821.4 975.1,820.4 977.4,821.7 979.7,820.6 982.0,821.3 984.3,819.5 986.6,817.2 988.9,818.5 991.2,817.1 993.5,818.6 995.8,816.6 998.1,816.5 1000.4,816.3 1002.7,814.2 1005.0,814.9 1007.3,815.9 1009.6,813.8 1011.9,813.8 1014.2,813.7 1016.5,812.3 1018.8,812.3 1021.1,812.6 1023.4,811.3 1025.7,811.3 1028.0,810.6 1030.3,809.1 1032.6,808.4 1034.9,811.5 1037.2,810.4 1039.5,808.3 1041.8,809.0 1044.1,808.7 1046.4,808.1 1048.7,806.2 1051.0,804.5 1053.3,804.3 1055.6,805.0 1057.9,806.3 1060.2,806.1 1062.5,803.7 1064.8,803.2 1067.1,804.5 1069.4,805.1 1071.7,801.4 1074.0,802.6 1076.3,801.8 1078.6,800.9 1080.9,800.5 1083.2,800.1 1085.5,800.0 1087.8,797.9 1090.1,799.1 1092.4,799.5 1094.7,798.9 1097.0,798.4 1099.3,797.4 1101.6,796.7 1103.9,798.0 1106.2,795.1 1108.5,794.8 1110.8,795.4 1113.1,793.5 1115.4,791.4 1117.7,791.6 1120.0,791.2 1122.3,790.9 1124.6,789.9 1126.9,790.9 1129.2,790.1 1131.5,789.2 1133.8,787.7 1136.1,788.7 1138.4,788.1 1140.7,788.8 1143.0,785.2 1145.3,785.2 1147.6,786.2 1149.9,783.0 1152.2,783.9 1154.5,783.3 1156.8,782.5 1159.1,780.8 1161.4,781.3 1163.7,779.1 1166.0,781.5 1168.3,779.0 1170.6,779.2 1172.9,778.4 1175.2,778.0 1177.5,777.4 1179.8,777.1 1182.1,775.7 1184.4,775.5 1186.7,773.7 1189.0,773.2 1191.3,772.8 1193.6,772.1 1195.9,771.1 1198.2,771.3 1200.5,772.1 1202.8,771.3 1205.1,769.8 1207.4,770.1 1209.7,769.6 1212.0,771.2 1214.3,766.3 1216.6,767.7 1218.9,765.4 1221.2,767.7 1223.5,765.5 1225.8,765.7 1228.1,764.8 1230.4,764.8 1232.7,760.8 1235.0,761.6 1237.3,762.4 1239.6,760.3 1241.9,761.8 1244.2,762.1 1246.5,758.8 1248.8,759.2 1251.1,759.8 1253.4,760.6 1255.7,759.1 1258.0,758.3 1260.3,755.9 1262.6,756.3 1264.9,755.8 1267.2,754.3 1269.5,754.8 1271.8,753.2 1274.1,752.3 1276.4,754.3 1278.7,750.9 1281.0,752.2 1283.3,748.7 1285.6,748.1 1287.9,745.8 1290.2,745.5 1292.5,746.9 1294.8,744.1 1297.1,740.8 1299.4,743.5 1301.7,739.8 1304.0,739.0 1306.3,738.1 1308.6,734.7 1310.9,736.8 1313.2,734.8 1315.5,731.1 1317.8,730.0 1320.1,727.3 1322.4,724.9 1324.7,723.4 1327.0,720.1 1329.3,719.3 1331.6,717.1 1333.9,717.8 1336.2,712.1 1338.5,713.0 1340.8,710.2 1343.1,707.3 1345.4,704.0 1347.7,704.0 1350.0,700.9 1352.3,696.4 1354.6,693.3 1356.9,690.8 1359.2,689.8 1361.5,684.1 1363.8,682.5 1366.1,681.0 1368.4,675.5 1370.7,674.2 1373.0,673.0 1375.3,668.8 1377.6,666.9 1379.9,663.3 1382.2,663.5 1384.5,660.0 1386.8,659.2 1389.1,658.4 1391.4,655.9 1393.7,656.0 1396.0,654.4 1398.3,652.6 1400.6,651.8 1402.9,649.1 1405.2,645.6 1407.5,647.6 1409.8,646.2 1412.1,643.6 1414.4,641.9 1416.7,642.8 1419.0,639.7 1421.3,638.4 1423.6,637.0 1425.9,638.7 1428.2,634.0 1430.5,630.8 1432.8,631.9 1435.1,629.5 1437.4,627.3 1439.7,627.9 1442.0,625.7 1444.3,625.7 1446.6,622.8 1448.9,622.8 1451.2,620.9 1453.5,618.3 1455.8,617.5 1458.1,617.1 1460.4,614.5 1462.7,610.9 1465.0,611.5 1467.3,610.6 1469.6,610.7 1471.9,608.3 1474.2,608.8 1476.5,606.5 1478.8,605.7 1481.1,604.4 1483.4,603.7 1485.7,602.4 1488.0,601.8 1490.3,599.4 1492.6,597.9 1494.9,597.8 1497.2,596.9 1499.5,595.1 1501.8,594.8 1504.1,593.6 1506.4,593.9 1508.7,589.3 1511.0,591.8 1513.3,586.0 1515.6,585.4 1517.9,586.4 1520.2,584.0 1522.5,583.6 1524.8,582.4 1527.1,580.5 1529.4,579.4 1531.7,579.6 1534.0,579.5 1536.3,578.8 1538.6,577.5 1540.9,576.0 1543.2,576.8 1545.5,572.2 1547.8,573.7 1550.1,574.1 1552.4,573.6 1554.7,572.2 1557.0,571.4 1559.3,570.2 1561.6,568.3 1563.9,564.8 1566.2,565.8 1568.5,565.1 1570.8,566.3 1573.1,563.2 1575.4,562.5 1577.7,562.7 1580.0,560.0 1582.3,560.2 1584.6,559.7 1586.9,557.7 1589.2,556.7 1591.5,553.5 1593.8,552.6 1596.1,552.2 1598.4,552.2 1600.7,548.6 1603.0,546.7 1605.3,545.6 1607.6,546.5 1609.9,542.6 1612.2,543.9 1614.5,542.3 1616.8,542.1 1619.1,540.2 1621.4,540.4 1623.7,541.3 1626.0,538.0 1628.3,536.6 1630.6,532.9 1632.9,535.1 1635.2,532.0 1637.5,531.8 1639.8,529.7 1642.1,526.7 1644.4,525.2 1646.7,522.5 1649.0,525.3 1651.3,522.3 1653.6,520.3 1655.9,519.0 1658.2,517.5 1660.5,514.7 1662.8,513.1 1665.1,513.7 1667.4,505.0 1669.7,506.4 1672.0,502.5 1674.3,502.7 1676.6,494.7 1678.9,496.2 1681.2,499.8 1683.5,492.5 1685.8,495.8 1688.1,490.5 1689.6,491.3"/>
<polyline stroke="#6ef56e" points="262.1,1268.0 264.4,1268.7 266.7,1270.5 269.0,1269.3 271.3,1270.7 273.6,1271.1 275.4,1268.0 275.9,1271.4 278.2,1269.1 280.5,1272.8 282.8,1270.7 285.1,1268.8 287.4,1269.6 289.7,1269.4 292.0,1269.3 294.3,1270.4 295.7,1269.0 296.6,1270.4 298.9,1268.4 301.2,1266.5 303.5,1263.5 305.8,1262.2 308.1,1263.2 310.4,1262.3 312.0,1262.2 312.7,1258.8 315.0,1257.4 317.3,1253.1 319.6,1250.4 321.9,1244.7 322.9,1247.6 324.2,1244.1 326.5,1242.5 328.8,1240.6 331.0,1237.6 331.1,1235.1 333.4,1235.3 335.7,1230.0 336.4,1228.3 338.0,1223.5 340.3,1217.1 342.6,1211.7 344.9,1208.3 347.2,1203.6 349.5,1197.7 351.8,1197.1 354.1,1191.4 356.4,1189.0 358.7,1185.5 361.0,1179.2 363.3,1177.9 365.6,1171.7 367.9,1162.3 370.2,1158.5 372.5,1154.8 374.8,1153.6 377.1,1153.2 379.4,1149.5 381.7,1150.7 384.0,1149.4 386.3,1146.6 388.6,1140.0 390.9,1135.0 393.2,1129.3 395.5,1122.3 397.8,1119.6 400.1,1114.8 402.4,1105.7 404.7,1092.3 407.0,1081.4 409.3,1072.6 411.6,1064.9 413.9,1062.1 416.2,1056.5 418.5,1055.8 420.8,1052.1 423.1,1047.9 425.4,1043.0 427.7,1040.6 430.0,1035.5 432.3,1031.2 434.6,1028.9 436.9,1022.7 439.2,1017.8 441.5,1015.8 443.8,1012.4 446.1,1007.7 448.4,1002.5 450.7,1000.0 453.0,993.9 455.3,993.3 457.6,989.9 459.9,984.3 462.2,982.7 464.5,979.3 466.8,978.8 469.1,980.0 471.4,977.7 473.7,978.9 476.0,978.9 478.3,978.3 480.6,978.9 482.9,979.4 485.2,976.8 487.5,976.4 489.8,974.3 492.1,969.9 494.4,967.5 496.7,963.3 499.0,964.2 501.3,962.8 503.6,960.1 505.9,961.2 508.2,958.6 510.5,955.9 512.8,953.4 515.1,949.7 517.4,952.4 519.7,953.1 522.0,950.8 524.3,949.6 526.6,949.0 528.9,952.2 531.2,943.9 533.5,948.1 535.8,948.9 538.1,950.5 540.4,949.9 542.7,946.1 545.0,944.1 547.3,941.2 549.6,948.0 551.9,945.1 554.2,942.9 556.5,938.8 558.8,936.4 561.1,943.0 563.4,938.2 565.7,938.8 568.0,938.3 570.3,933.3 572.6,933.1 574.9,933.3 577.2,932.6 579.5,929.7 581.8,929.9 584.1,928.5 586.4,927.9 588.7,928.6 591.0,928.1 593.3,928.9 595.6,928.1 597.9,928.9 600.2,926.0 602.5,927.3 604.8,925.0 607.1,924.5 609.4,924.6 611.7,926.7 614.0,925.8 616.3,923.1 618.6,925.9 620.9,925.9 623.2,922.6 625.5,921.6 627.8,921.3 630.1,917.8 632.4,924.9 634.7,918.0 637.0,918.0 639.3,917.1 641.6,915.9 643.9,914.9 646.2,917.1 648.5,913.2 650.8,913.2 653.1,913.3 655.4,916.4 657.7,912.0 660.0,911.6 662.3,914.0 664.6,910.3 666.9,911.6 669.2,913.7 671.5,912.0 673.8,910.6 676.1,913.4 678.4,908.6 680.7,907.8 683.0,904.9 685.3,908.6 687.6,909.8 689.9,906.9 692.2,912.5 694.5,910.5 696.8,910.3 699.1,905.6 701.4,908.7 703.7,908.8 706.0,904.7 708.3,908.0 710.6,907.6 712.9,905.0 715.2,908.5 717.5,910.8 719.8,908.3 722.1,905.2 724.4,905.7 726.7,907.5 729.0,903.7 731.3,905.2 733.6,904.1 735.9,903.8 738.2,905.7 740.5,899.7 742.8,903.4 745.1,901.1 747.4,899.6 749.7,896.2 752.0,898.7 754.3,896.8 756.6,893.0 758.9,894.1 761.2,894.1 763.5,894.2 765.8,894.7 768.1,894.1 770.4,898.0 772.7,897.0 775.0,895.0 777.3,897.2 779.6,898.3 781.9,895.3 784.2,892.0 786.5,894.4 788.8,895.8 791.1,891.4 793.4,892.6 795.7,893.7 798.0,893.6 800.3,892.1 802.6,891.0 804.9,889.9 807.2,888.9 809.5,890.1 811.8,889.5 814.1,887.4 816.4,886.7 818.7,888.3 821.0,887.5 823.3,885.0 825.6,883.4 827.9,884.8 830.2,885.0 832.5,884.6 834.8,883.8 837.1,880.6 839.4,881.8 841.7,880.7 844.0,879.7 846.3,882.5 848.6,879.3 850.9,879.0 853.2,877.8 855.5,878.3 857.8,878.2 860.1,876.0 862.4,875.7 864.7,874.6 867.0,873.3 869.3,873.7 871.6,873.7 873.9,872.7 876.2,871.9 878.5,869.6 880.8,871.5 883.1,870.9 885.4,872.0 887.7,869.2 890.0,868.0 892.3,867.0 894.6,868.1 896.9,868.4 899.2,868.4 901.5,866.1 903.8,866.9 906.1,868.3 908.4,867.0 910.7,866.2 913.0,865.8 915.3,864.1 917.6,863.9 919.9,864.5 922.2,866.1 924.5,865.7 926.8,864.0 929.1,864.6 931.4,864.1 933.7,864.6 936.0,862.2 938.3,862.9 940.6,863.2 942.9,860.2 945.2,860.9 947.5,860.6 949.8,859.9 952.1,859.0 954.4,855.1 956.7,851.4 959.0,850.8 961.3,849.0 963.6,850.5 965.9,847.1 968.2,847.0 970.5,847.3 972.8,845.8 975.1,844.8 977.4,844.7 979.7,847.2 982.0,844.9 984.3,843.8 986.6,846.9 988.9,844.8 991.2,844.0 993.5,842.2 995.8,843.0 998.1,841.6 1000.4,841.9 1002.7,841.0 1005.0,840.1 1007.3,840.0 1009.6,838.2 1011.9,838.1 1014.2,837.1 1016.5,837.8 1018.8,837.5 1021.1,837.1 1023.4,833.5 1025.7,836.9 1028.0,834.2 1030.3,833.7 1032.6,833.2 1034.9,832.6 1037.2,833.4 1039.5,831.6 1041.8,831.2 1044.1,831.3 1046.4,831.2 1048.7,828.0 1051.0,827.3 1053.3,826.0 1055.6,825.5 1057.9,827.4 1060.2,826.7 1062.5,826.1 1064.8,826.1 1067.1,825.6 1069.4,826.1 1071.7,826.3 1074.0,823.1 1076.3,825.2 1078.6,824.3 1080.9,821.8 1083.2,822.4 1085.5,821.3 1087.8,819.4 1090.1,820.8 1092.4,818.5 1094.7,819.8 1097.0,818.1 1099.3,818.3 1101.6,819.0 1103.9,817.7 1106.2,816.1 1108.5,816.7 1110.8,816.6 1113.1,816.3 1115.4,813.8 1117.7,815.3 1120.0,813.3 1122.3,812.3 1124.6,813.5 1126.9,812.3 1129.2,811.7 1131.5,810.5 1133.8,807.7 1136.1,809.5 1138.4,808.9 1140.7,807.5 1143.0,808.8 1145.3,806.3 1147.6,807.4 1149.9,806.1 1152.2,803.3 1154.5,802.4 1156.8,802.3 1159.1,801.9 1161.4,802.0 1163.7,799.9 1166.0,798.7 1168.3,801.5 1170.6,798.5 1172.9,798.1 1175.2,799.0 1177.5,796.5 1179.8,793.2 1182.1,795.5 1184.4,793.7 1186.7,794.7 1189.0,791.0 1191.3,792.5 1193.6,792.5 1195.9,792.4 1198.2,791.3 1200.5,790.5 1202.8,788.8 1205.1,788.1 1207.4,786.4 1209.7,787.9 1212.0,787.8 1214.3,786.1 1216.6,783.9 1218.9,782.6 1221.2,782.9 1223.5,784.5 1225.8,782.3 1228.1,780.3 1230.4,780.3 1232.7,780.9 1235.0,778.5 1237.3,778.0 1239.6,777.1 1241.9,776.0 1244.2,778.4 1246.5,774.6 1248.8,775.0 1251.1,775.3 1253.4,773.1 1255.7,772.0 1258.0,771.4 1260.3,770.8 1262.6,769.7 1264.9,768.6 1267.2,767.7 1269.5,767.3 1271.8,768.2 1274.1,764.8 1276.4,765.0 1278.7,762.8 1281.0,760.8 1283.3,759.4 1285.6,759.8 1287.9,756.8 1290.2,757.5 1292.5,755.4 1294.8,756.3 1297.1,752.0 1299.4,753.0 1301.7,751.9 1304.0,749.8 1306.3,746.8 1308.6,746.0 1310.9,743.9 1313.2,741.6 1315.5,740.6 1317.8,737.4 1320.1,735.5 1322.4,734.3 1324.7,730.8 1327.0,728.5 1329.3,727.1 1331.6,724.4 1333.9,720.5 1336.2,720.4 1338.5,718.8 1340.8,715.5 1343.1,712.4 1345.4,712.3 1347.7,708.3 1350.0,706.7 1352.3,703.3 1354.6,701.3 1356.9,697.1 1359.2,694.5 1361.5,692.1 1363.8,687.5 1366.1,686.3 1368.4,683.7 1370.7,677.8 1373.0,676.0 1375.3,674.9 1377.6,674.4 1379.9,670.1 1382.2,667.2 1384.5,665.1 1386.8,665.5 1389.1,663.8 1391.4,661.4 1393.7,660.9 1396.0,658.7 1398.3,658.8 1400.6,654.5 1402.9,654.1 1405.2,654.4 1407.5,651.1 1409.8,649.4 1412.1,648.6 1414.4,649.5 1416.7,646.3 1419.0,646.1 1421.3,642.0 1423.6,641.3 1425.9,640.7 1428.2,638.7 1430.5,636.2 1432.8,632.7 1435.1,634.1 1437.4,632.7 1439.7,630.7 1442.0,626.6 1444.3,625.1 1446.6,624.1 1448.9,621.6 1451.2,621.9 1453.5,617.5 1455.8,616.4 1458.1,613.8 1460.4,611.4 1462.7,613.0 1465.0,610.7 1467.3,608.6 1469.6,608.3 1471.9,604.8 1474.2,607.8 1476.5,603.9 1478.8,601.9 1481.1,601.7 1483.4,601.9 1485.7,600.3 1488.0,599.7 1490.3,598.3 1492.6,596.1 1494.9,595.8 1497.2,591.2 1499.5,592.3 1501.8,591.0 1504.1,589.6 1506.4,587.8 1508.7,586.2 1511.0,585.0 1513.3,582.7 1515.6,582.9 1517.9,583.5 1520.2,582.8 1522.5,579.6 1524.8,578.3 1527.1,577.2 1529.4,576.4 1531.7,575.4 1534.0,574.7 1536.3,574.6 1538.6,569.6 1540.9,569.5 1543.2,569.1 1545.5,568.5 1547.8,568.1 1550.1,568.7 1552.4,564.8 1554.7,565.7 1557.0,564.1 1559.3,563.3 1561.6,562.7 1563.9,562.3 1566.2,560.4 1568.5,557.9 1570.8,558.3 1573.1,556.9 1575.4,553.3 1577.7,554.0 1580.0,551.9 1582.3,550.4 1584.6,549.2 1586.9,549.6 1589.2,544.5 1591.5,545.2 1593.8,541.6 1596.1,542.3 1598.4,542.0 1600.7,537.1 1603.0,539.8 1605.3,537.4 1607.6,535.1 1609.9,533.5 1612.2,532.2 1614.5,530.7 1616.8,528.9 1619.1,528.8 1621.4,526.8 1623.7,522.8 1626.0,523.9 1628.3,523.3 1630.6,521.5 1632.9,518.1 1635.2,514.0 1637.5,513.9 1639.8,512.9 1642.1,511.4 1644.4,507.9 1646.7,509.0 1649.0,507.6 1651.3,502.3 1653.6,501.4 1655.9,498.9 1658.2,498.6 1660.5,498.3 1662.8,490.9 1665.1,494.7 1667.4,491.5 1669.7,485.5 1672.0,489.4 1674.3,485.2 1676.6,481.0 1678.9,479.3 1681.2,476.0 1683.5,480.1 1685.8,477.3 1688.1,481.2 1689.6,485.2"/>
<polyline stroke="#ff8012" points="262.1,1302.3 264.3,1283.9 264.4,1284.3 266.7,1285.9 268.7,1288.0 269.0,1285.5 271.3,1284.7 273.6,1280.5 275.9,1276.8 277.0,1277.2 278.2,1278.8 280.5,1281.7 282.8,1287.3 285.1,1291.2 285.2,1290.6 287.4,1289.4 289.7,1286.0 292.0,1281.5 294.3,1276.1 296.6,1277.2 297.3,1274.3 298.9,1277.0 301.2,1279.2 303.5,1282.4 304.5,1283.5 305.8,1283.8 308.1,1286.8 310.4,1285.9 312.7,1289.3 315.0,1287.1 315.4,1290.3 317.3,1287.9 319.6,1287.2 321.9,1286.1 324.2,1279.6 326.5,1279.7 328.8,1279.7 329.2,1280.0 331.1,1282.3 333.4,1285.4 335.0,1286.6 335.7,1286.1 338.0,1286.3 340.3,1286.1 342.6,1287.8 344.9,1286.2 347.2,1287.1 349.5,1288.9 351.8,1288.0 354.1,1285.0 356.4,1285.4 358.7,1286.9 361.0,1284.2 363.3,1281.8 365.6,1283.3 367.9,1286.2 370.2,1284.8 372.5,1284.4 374.8,1286.2 377.1,1283.1 379.4,1288.5 381.7,1284.7 384.0,1284.1 386.3,1287.9 388.6,1282.7 390.9,1283.7 393.2,1284.3 395.5,1282.8 397.8,1283.8 400.1,1285.4 402.4,1284.7 404.7,1284.3 407.0,1286.0 409.3,1287.5 411.6,1287.0 413.9,1280.9 416.2,1286.7 418.5,1285.7 420.8,1286.0 423.1,1280.6 425.4,1282.7 427.7,1283.6 430.0,1279.0 432.3,1289.2 434.6,1287.8 436.9,1284.3 439.2,1280.8 441.5,1289.6 443.8,1286.9 446.1,1288.5 448.4,1282.8 450.7,1293.5 453.0,1283.9 455.3,1291.9 457.6,1276.7 459.9,1285.6 462.2,1284.7 464.5,1275.3 466.8,1281.9 469.1,1279.7 471.4,1279.0 473.7,1281.5 476.0,1279.9 478.3,1285.7 480.6,1286.2 482.9,1285.4 485.2,1278.9 487.5,1281.2 489.8,1295.5 492.1,1282.1 494.4,1284.3 496.7,1280.5 499.0,1287.9 501.3,1290.2 503.6,1289.7 505.9,1287.2 508.2,1289.1 510.5,1283.0 512.8,1288.5 515.1,1277.9 517.4,1285.1 519.7,1290.1 522.0,1277.7 524.3,1289.5 526.6,1286.5 528.9,1276.3 531.2,1273.2 533.5,1273.5 535.8,1277.5 538.1,1286.5 540.4,1286.0 542.7,1292.5 545.0,1299.4 547.3,1281.2 549.6,1270.9 551.9,1274.6 554.2,1271.0 556.5,1279.8 558.8,1280.8 561.1,1292.8 563.4,1274.4 565.7,1282.8 568.0,1282.7 570.3,1283.5 572.6,1280.6 574.9,1298.3 577.2,1283.2 579.5,1284.6 581.8,1289.0 584.1,1285.8 586.4,1296.1 588.7,1276.4 591.0,1283.1 593.3,1281.0 595.6,1283.9 597.9,1290.3 600.2,1280.4 602.5,1271.4 604.8,1284.5 607.1,1282.1 609.4,1285.7 611.7,1284.9 614.0,1289.0 616.3,1285.6 618.6,1282.6 620.9,1285.2 623.2,1286.7 625.5,1284.6 627.8,1284.3 630.1,1283.8 632.4,1283.5 634.7,1282.4 637.0,1287.1 639.3,1285.3 641.6,1281.2 643.9,1286.8 646.2,1284.4 648.5,1284.9 650.8,1284.7 653.1,1287.0 655.4,1279.5 657.7,1284.4 660.0,1285.6 662.3,1284.1 664.6,1280.8 666.9,1281.6 669.2,1284.6 671.5,1285.6 673.8,1282.8 676.1,1283.9 678.4,1284.7 680.7,1284.6 683.0,1284.9 685.3,1285.4 687.6,1285.0 689.9,1283.2 692.2,1284.2 694.5,1283.5 696.8,1284.4 699.1,1285.7 701.4,1285.3 703.7,1286.3 706.0,1285.6 708.3,1285.3 710.6,1285.3 712.9,1283.9 715.2,1284.3 717.5,1284.9 719.8,1285.1 722.1,1284.9 724.4,1283.6 726.7,1283.5 729.0,1283.5 731.3,1285.9 733.6,1284.3 735.9,1285.1 738.2,1284.4 740.5,1284.3 742.8,1284.2 745.1,1284.1 747.4,1284.5 749.7,1284.7 752.0,1283.9 754.3,1284.4 756.6,1284.3 758.9,1284.2 761.2,1284.6 763.5,1285.0 765.8,1283.8 768.1,1284.4 770.4,1284.8 772.7,1284.7 775.0,1283.7 777.3,1284.5 779.6,1284.2 781.9,1284.2 784.2,1284.6 786.5,1284.0 788.8,1284.4 791.1,1284.7 793.4,1284.1 795.7,1284.0 798.0,1285.2 800.3,1283.9 802.6,1284.8 804.9,1284.1 807.2,1284.4 809.5,1284.1 811.8,1284.4 814.1,1284.4 816.4,1283.9 818.7,1284.3 821.0,1284.7 823.3,1284.0 825.6,1283.4 827.9,1284.4 830.2,1284.0 832.5,1284.4 834.8,1284.1 837.1,1284.0 839.4,1284.2 841.7,1284.4 844.0,1284.4 846.3,1283.8 848.6,1283.7 850.9,1283.8 853.2,1284.7 855.5,1284.3 857.8,1283.9 860.1,1284.1 862.4,1284.7 864.7,1283.8 867.0,1284.1 869.3,1284.5 871.6,1284.5 873.9,1284.5 876.2,1283.9 878.5,1284.2 880.8,1283.3 883.1,1284.0 885.4,1283.9 887.7,1283.9 890.0,1284.5 892.3,1283.9 894.6,1283.9 896.9,1284.1 899.2,1284.4 901.5,1283.3 903.8,1283.8 906.1,1283.3 908.4,1283.2 910.7,1282.9 913.0,1281.8 915.3,1279.7 917.6,1277.1 919.9,1274.4 922.2,1271.2 924.5,1267.2 926.8,1262.7 929.1,1257.9 931.4,1252.3 933.7,1245.6 936.0,1237.1 938.3,1225.1 940.6,1211.5 942.9,1195.5 945.2,1178.8 947.5,1163.8 949.8,1149.3 952.1,1135.5 954.4,1121.4 956.7,1105.5 959.0,1089.4 961.3,1075.2 963.6,1061.5 965.9,1047.5 968.2,1034.1 970.5,1022.1 972.8,1010.8 975.1,999.2 977.4,987.9 979.7,977.1 982.0,967.0 984.3,959.2 986.6,952.6 988.9,945.9 991.2,938.9 993.5,932.3 995.8,926.2 998.1,920.6 1000.4,914.9 1002.7,911.0 1005.0,906.0 1007.3,904.5 1009.6,900.2 1011.9,896.9 1014.2,894.2 1016.5,890.9 1018.8,889.1 1021.1,887.4 1023.4,884.5 1025.7,881.9 1028.0,879.8 1030.3,878.0 1032.6,876.1 1034.9,874.7 1037.2,874.0 1039.5,873.1 1041.8,871.5 1044.1,870.8 1046.4,868.6 1048.7,866.8 1051.0,865.3 1053.3,865.3 1055.6,863.4 1057.9,862.6 1060.2,861.0 1062.5,860.2 1064.8,859.4 1067.1,857.6 1069.4,857.1 1071.7,857.4 1074.0,856.8 1076.3,855.1 1078.6,854.4 1080.9,853.3 1083.2,852.3 1085.5,852.7 1087.8,852.4 1090.1,851.4 1092.4,850.8 1094.7,849.6 1097.0,850.0 1099.3,848.9 1101.6,847.8 1103.9,848.0 1106.2,846.3 1108.5,845.5 1110.8,845.3 1113.1,844.0 1115.4,843.2 1117.7,843.4 1120.0,842.5 1122.3,841.5 1124.6,841.4 1126.9,840.6 1129.2,840.4 1131.5,839.9 1133.8,839.5 1136.1,838.0 1138.4,838.6 1140.7,837.7 1143.0,837.5 1145.3,836.9 1147.6,836.8 1149.9,835.9 1152.2,835.3 1154.5,835.4 1156.8,834.5 1159.1,833.6 1161.4,833.6 1163.7,833.0 1166.0,832.5 1168.3,832.0 1170.6,831.1 1172.9,830.5 1175.2,831.7 1177.5,829.2 1179.8,829.3 1182.1,828.6 1184.4,827.5 1186.7,827.0 1189.0,826.1 1191.3,825.4 1193.6,826.4 1195.9,824.4 1198.2,824.0 1200.5,824.5 1202.8,822.7 1205.1,823.7 1207.4,822.5 1209.7,822.8 1212.0,821.2 1214.3,820.8 1216.6,821.2 1218.9,820.1 1221.2,819.5 1223.5,820.0 1225.8,819.0 1228.1,818.1 1230.4,818.1 1232.7,817.9 1235.0,816.9 1237.3,817.8 1239.6,816.4 1241.9,815.5 1244.2,815.1 1246.5,814.9 1248.8,813.6 1251.1,813.1 1253.4,812.7 1255.7,811.9 1258.0,811.3 1260.3,809.7 1262.6,809.9 1264.9,809.6 1267.2,809.6 1269.5,807.9 1271.8,807.8 1274.1,807.0 1276.4,806.6 1278.7,806.9 1281.0,806.0 1283.3,805.4 1285.6,803.2 1287.9,802.6 1290.2,802.6 1292.5,800.9 1294.8,801.1 1297.1,801.1 1299.4,798.2 1301.7,798.4 1304.0,797.0 1306.3,796.1 1308.6,794.6 1310.9,792.6 1313.2,792.0 1315.5,790.5 1317.8,788.9 1320.1,788.1 1322.4,786.7 1324.7,784.4 1327.0,783.6 1329.3,781.5 1331.6,779.7 1333.9,777.6 1336.2,774.9 1338.5,774.3 1340.8,771.1 1343.1,769.1 1345.4,766.2 1347.7,764.0 1350.0,762.1 1352.3,758.8 1354.6,757.0 1356.9,755.4 1359.2,752.2 1361.5,750.3 1363.8,747.6 1366.1,746.4 1368.4,744.6 1370.7,742.6 1373.0,741.1 1375.3,738.9 1377.6,737.2 1379.9,736.1 1382.2,734.1 1384.5,731.8 1386.8,730.6 1389.1,727.7 1391.4,725.8 1393.7,724.5 1396.0,723.7 1398.3,720.8 1400.6,719.4 1402.9,718.2 1405.2,716.9 1407.5,715.4 1409.8,715.3 1412.1,714.4 1414.4,713.1 1416.7,711.9 1419.0,710.3 1421.3,709.6 1423.6,708.1 1425.9,706.2 1428.2,705.2 1430.5,703.1 1432.8,702.1 1435.1,700.4 1437.4,699.8 1439.7,697.7 1442.0,697.0 1444.3,694.8 1446.6,694.4 1448.9,693.3 1451.2,691.7 1453.5,690.2 1455.8,689.1 1458.1,688.5 1460.4,687.4 1462.7,686.3 1465.0,685.0 1467.3,684.3 1469.6,684.2 1471.9,683.4 1474.2,683.3 1476.5,682.9 1478.8,681.9 1481.1,680.8 1483.4,680.1 1485.7,679.6 1488.0,677.3 1490.3,677.4 1492.6,676.1 1494.9,674.1 1497.2,673.2 1499.5,672.0 1501.8,671.5 1504.1,670.3 1506.4,668.8 1508.7,667.2 1511.0,668.9 1513.3,667.6 1515.6,666.3 1517.9,665.0 1520.2,664.9 1522.5,663.9 1524.8,664.5 1527.1,663.3 1529.4,661.1 1531.7,661.4 1534.0,659.9 1536.3,659.4 1538.6,657.9 1540.9,656.3 1543.2,655.5 1545.5,655.5 1547.8,655.0 1550.1,654.4 1552.4,653.5 1554.7,651.8 1557.0,651.0 1559.3,650.3 1561.6,649.0 1563.9,648.8 1566.2,646.9 1568.5,646.4 1570.8,645.4 1573.1,644.6 1575.4,644.3 1577.7,642.7 1580.0,642.0 1582.3,640.9 1584.6,639.9 1586.9,639.7 1589.2,637.7 1591.5,637.0 1593.8,636.6 1596.1,635.5 1598.4,634.4 1600.7,633.3 1603.0,631.8 1605.3,631.7 1607.6,630.4 1609.9,630.4 1612.2,629.2 1614.5,626.9 1616.8,627.5 1619.1,626.9 1621.4,625.5 1623.7,624.7 1626.0,623.7 1628.3,622.5 1630.6,620.2 1632.9,619.2 1635.2,617.8 1637.5,614.4 1639.8,613.3 1642.1,607.9 1644.4,609.6 1646.7,608.9 1649.0,606.8 1651.3,602.3 1653.6,605.5 1655.9,601.9 1658.2,601.8 1660.5,597.7 1662.8,596.5 1665.1,595.5 1667.4,595.0 1669.7,593.8 1672.0,589.1 1674.3,588.7 1676.6,586.8 1678.9,584.6 1681.2,580.6 1683.5,579.0 1685.8,581.3 1688.1,580.0 1689.6,579.4"/>
<polyline stroke="#000000" points="262.1,1287.5 264.4,1272.3 266.7,1264.4 267.1,1263.3 269.0,1266.6 271.3,1280.1 273.6,1287.1 274.2,1287.5 275.9,1286.9 278.2,1282.1 280.5,1273.9 282.5,1276.3 282.8,1272.3 285.1,1280.9 287.4,1283.5 288.0,1282.6 289.7,1285.9 292.0,1284.9 294.3,1286.4 296.2,1286.1 296.6,1287.6 298.9,1288.2 301.2,1286.1 303.5,1287.4 304.5,1289.2 305.8,1289.9 307.2,1288.3 308.1,1291.9 310.0,1277.4 310.4,1276.9 312.7,1275.1 315.0,1275.8 317.3,1275.6 318.2,1271.9 319.6,1269.9 321.9,1267.2 324.2,1263.0 326.4,1261.3 326.5,1259.6 328.8,1260.4 331.1,1259.3 333.4,1254.6 335.7,1256.5 336.4,1256.3 338.0,1255.3 340.3,1250.1 342.6,1245.7 344.9,1242.7 347.2,1241.2 349.5,1235.4 351.8,1231.2 354.1,1228.9 356.4,1221.8 358.7,1218.2 361.0,1216.5 363.3,1213.5 365.6,1209.8 367.9,1201.0 370.2,1193.4 372.5,1187.7 374.8,1186.9 377.1,1183.0 379.4,1183.8 381.7,1184.6 384.0,1189.5 386.3,1192.7 388.6,1184.1 390.9,1174.3 393.2,1166.9 395.5,1162.6 397.8,1151.7 400.1,1145.5 402.4,1132.2 404.7,1129.1 407.0,1117.3 409.3,1116.4 411.6,1107.1 413.9,1099.8 416.2,1091.0 418.5,1085.8 420.8,1087.8 423.1,1084.7 425.4,1082.1 427.7,1082.3 430.0,1078.1 432.3,1070.7 434.6,1067.5 436.9,1063.2 439.2,1060.8 441.5,1057.4 443.8,1052.8 446.1,1046.9 448.4,1042.3 450.7,1037.5 453.0,1032.8 455.3,1031.6 457.6,1029.7 459.9,1028.0 462.2,1028.5 464.5,1023.0 466.8,1021.5 469.1,1020.9 471.4,1018.0 473.7,1016.3 476.0,1015.9 478.3,1013.5 480.6,1012.8 482.9,1013.3 485.2,1013.5 487.5,1013.0 489.8,1012.9 492.1,1013.8 494.4,1014.7 496.7,1011.8 499.0,1011.8 501.3,1009.3 503.6,1006.6 505.9,1000.6 508.2,1003.7 510.5,1001.1 512.8,997.2 515.1,1001.2 517.4,998.2 519.7,999.0 522.0,994.5 524.3,997.0 526.6,993.8 528.9,999.1 531.2,994.8 533.5,988.3 535.8,993.9 538.1,992.6 540.4,990.8 542.7,985.5 545.0,994.0 547.3,986.2 549.6,994.2 551.9,984.7 554.2,986.4 556.5,985.1 558.8,984.9 561.1,992.4 563.4,980.4 565.7,989.2 568.0,980.8 570.3,977.7 572.6,979.0 574.9,977.0 577.2,975.8 579.5,971.4 581.8,972.7 584.1,970.5 586.4,970.1 588.7,969.7 591.0,969.6 593.3,971.4 595.6,969.5 597.9,966.4 600.2,970.4 602.5,968.6 604.8,968.5 607.1,965.7 609.4,968.5 611.7,967.0 614.0,968.6 616.3,967.5 618.6,967.4 620.9,964.7 623.2,960.8 625.5,966.1 627.8,964.1 630.1,961.6 632.4,960.3 634.7,958.9 637.0,956.3 639.3,957.1 641.6,958.9 643.9,962.1 646.2,959.1 648.5,961.1 650.8,954.9 653.1,959.4 655.4,955.3 657.7,959.0 660.0,958.1 662.3,955.0 664.6,954.8 666.9,956.8 669.2,951.9 671.5,948.5 673.8,954.7 676.1,957.3 678.4,947.9 680.7,952.2 683.0,948.8 685.3,950.5 687.6,948.7 689.9,952.6 692.2,949.3 694.5,949.9 696.8,947.8 699.1,951.6 701.4,949.0 703.7,949.1 706.0,949.4 708.3,946.9 710.6,949.0 712.9,946.1 715.2,948.0 717.5,947.5 719.8,946.7 722.1,946.4 724.4,945.0 726.7,946.3 729.0,944.8 731.3,943.4 733.6,943.1 735.9,941.7 738.2,941.9 740.5,940.9 742.8,937.6 745.1,942.4 747.4,938.2 749.7,937.0 752.0,937.8 754.3,933.2 756.6,935.4 758.9,936.2 761.2,935.0 763.5,935.3 765.8,934.4 768.1,934.4 770.4,934.8 772.7,935.0 775.0,932.9 777.3,935.0 779.6,934.8 781.9,933.1 784.2,932.7 786.5,933.4 788.8,934.5 791.1,933.7 793.4,929.8 795.7,929.5 798.0,928.7 800.3,929.2 802.6,927.8 804.9,927.4 807.2,927.6 809.5,925.7 811.8,925.2 814.1,924.4 816.4,922.6 818.7,922.7 821.0,922.0 823.3,921.1 825.6,922.7 827.9,921.1 830.2,917.3 832.5,918.4 834.8,918.7 837.1,918.2 839.4,916.8 841.7,916.7 844.0,916.1 846.3,915.5 848.6,916.1 850.9,914.8 853.2,913.6 855.5,913.3 857.8,913.1 860.1,911.2 862.4,911.3 864.7,911.9 867.0,911.8 869.3,907.5 871.6,912.2 873.9,908.3 876.2,909.3 878.5,906.4 880.8,908.1 883.1,906.9 885.4,906.2 887.7,905.5 890.0,905.1 892.3,905.7 894.6,903.6 896.9,903.7 899.2,903.1 901.5,901.2 903.8,902.7 906.1,902.1 908.4,901.2 910.7,899.8 913.0,900.4 915.3,900.2 917.6,899.9 919.9,899.5 922.2,897.8 924.5,899.9 926.8,899.3 929.1,899.0 931.4,898.4 933.7,899.0 936.0,898.0 938.3,898.1 940.6,896.8 942.9,896.1 945.2,896.0 947.5,893.9 949.8,893.6 952.1,893.1 954.4,889.0 956.7,883.7 959.0,884.8 961.3,883.9 963.6,885.1 965.9,881.6 968.2,882.5 970.5,884.8 972.8,880.1 975.1,882.2 977.4,881.5 979.7,880.1 982.0,881.7 984.3,880.4 986.6,878.3 988.9,879.8 991.2,878.6 993.5,880.8 995.8,879.2 998.1,877.5 1000.4,878.5 1002.7,879.9 1005.0,875.9 1007.3,875.7 1009.6,876.2 1011.9,875.9 1014.2,875.6 1016.5,873.3 1018.8,874.6 1021.1,872.7 1023.4,872.7 1025.7,874.1 1028.0,871.8 1030.3,872.8 1032.6,871.3 1034.9,871.4 1037.2,870.9 1039.5,871.0 1041.8,870.6 1044.1,868.5 1046.4,870.7 1048.7,869.1 1051.0,869.0 1053.3,868.6 1055.6,866.6 1057.9,866.6 1060.2,866.3 1062.5,866.1 1064.8,867.2 1067.1,867.0 1069.4,867.1 1071.7,866.1 1074.0,865.5 1076.3,863.1 1078.6,861.9 1080.9,862.4 1083.2,861.6 1085.5,860.4 1087.8,860.8 1090.1,861.1 1092.4,860.2 1094.7,860.7 1097.0,859.9 1099.3,859.3 1101.6,859.8 1103.9,857.8 1106.2,857.6 1108.5,858.7 1110.8,857.7 1113.1,854.5 1115.4,855.8 1117.7,856.9 1120.0,855.3 1122.3,855.6 1124.6,852.1 1126.9,853.8 1129.2,850.5 1131.5,853.0 1133.8,850.2 1136.1,852.5 1138.4,849.6 1140.7,849.9 1143.0,849.4 1145.3,848.4 1147.6,846.1 1149.9,848.0 1152.2,846.1 1154.5,848.6 1156.8,845.2 1159.1,845.2 1161.4,844.2 1163.7,846.0 1166.0,845.4 1168.3,844.0 1170.6,844.1 1172.9,841.7 1175.2,841.2 1177.5,843.4 1179.8,840.7 1182.1,841.0 1184.4,839.3 1186.7,840.3 1189.0,840.9 1191.3,840.0 1193.6,838.1 1195.9,840.3 1198.2,839.2 1200.5,836.0 1202.8,837.0 1205.1,837.4 1207.4,836.7 1209.7,837.0 1212.0,837.6 1214.3,835.9 1216.6,835.4 1218.9,836.5 1221.2,836.3 1223.5,833.7 1225.8,835.3 1228.1,831.1 1230.4,834.3 1232.7,832.7 1235.0,830.7 1237.3,830.7 1239.6,830.9 1241.9,831.8 1244.2,830.9 1246.5,829.8 1248.8,828.6 1251.1,828.7 1253.4,826.8 1255.7,827.3 1258.0,826.3 1260.3,826.4 1262.6,826.8 1264.9,825.5 1267.2,823.3 1269.5,825.9 1271.8,824.2 1274.1,824.1 1276.4,822.2 1278.7,822.1 1281.0,821.4 1283.3,822.5 1285.6,818.9 1287.9,820.4 1290.2,818.5 1292.5,818.4 1294.8,815.9 1297.1,813.6 1299.4,815.3 1301.7,812.7 1304.0,812.3 1306.3,811.3 1308.6,807.2 1310.9,807.1 1313.2,806.0 1315.5,805.2 1317.8,803.6 1320.1,802.1 1322.4,799.3 1324.7,799.2 1327.0,795.9 1329.3,793.8 1331.6,791.2 1333.9,788.3 1336.2,787.3 1338.5,785.5 1340.8,783.5 1343.1,783.6 1345.4,779.8 1347.7,778.3 1350.0,774.9 1352.3,774.6 1354.6,773.4 1356.9,772.4 1359.2,769.9 1361.5,768.7 1363.8,765.0 1366.1,764.9 1368.4,762.1 1370.7,756.9 1373.0,753.7 1375.3,751.9 1377.6,750.4 1379.9,747.1 1382.2,746.4 1384.5,745.2 1386.8,743.8 1389.1,742.3 1391.4,738.0 1393.7,735.9 1396.0,737.2 1398.3,734.5 1400.6,733.2 1402.9,731.6 1405.2,730.8 1407.5,731.0 1409.8,727.6 1412.1,726.6 1414.4,728.1 1416.7,726.6 1419.0,722.9 1421.3,721.6 1423.6,722.8 1425.9,722.2 1428.2,722.4 1430.5,719.7 1432.8,718.6 1435.1,716.4 1437.4,715.6 1439.7,713.9 1442.0,714.5 1444.3,712.5 1446.6,712.0 1448.9,710.0 1451.2,707.4 1453.5,707.2 1455.8,707.3 1458.1,705.4 1460.4,702.0 1462.7,704.0 1465.0,701.4 1467.3,702.5 1469.6,699.7 1471.9,698.3 1474.2,699.3 1476.5,696.2 1478.8,697.9 1481.1,695.1 1483.4,695.3 1485.7,692.0 1488.0,692.4 1490.3,690.5 1492.6,691.6 1494.9,687.8 1497.2,687.2 1499.5,685.4 1501.8,685.2 1504.1,684.5 1506.4,684.8 1508.7,683.6 1511.0,680.5 1513.3,683.6 1515.6,681.1 1517.9,681.6 1520.2,679.3 1522.5,679.8 1524.8,678.1 1527.1,677.0 1529.4,676.3 1531.7,674.6 1534.0,675.1 1536.3,674.0 1538.6,673.4 1540.9,673.1 1543.2,671.9 1545.5,670.5 1547.8,670.4 1550.1,668.8 1552.4,669.0 1554.7,667.3 1557.0,664.8 1559.3,665.3 1561.6,664.3 1563.9,664.1 1566.2,663.6 1568.5,662.9 1570.8,662.2 1573.1,659.3 1575.4,658.8 1577.7,658.7 1580.0,657.4 1582.3,656.9 1584.6,654.1 1586.9,655.8 1589.2,651.6 1591.5,649.8 1593.8,650.1 1596.1,648.1 1598.4,649.4 1600.7,647.6 1603.0,644.8 1605.3,646.2 1607.6,646.4 1609.9,643.4 1612.2,642.8 1614.5,641.4 1616.8,640.8 1619.1,638.8 1621.4,639.5 1623.7,637.4 1626.0,638.0 1628.3,638.3 1630.6,636.6 1632.9,634.7 1635.2,634.5 1637.5,632.4 1639.8,629.3 1642.1,629.2 1644.4,628.0 1646.7,625.4 1649.0,625.0 1651.3,621.3 1653.6,621.8 1655.9,620.6 1658.2,618.4 1660.5,616.1 1662.8,615.3 1665.1,611.8 1667.4,610.5 1669.7,610.4 1672.0,609.8 1674.3,606.8 1676.6,602.1 1678.9,601.7 1681.2,597.9 1683.5,599.5 1685.8,596.6 1688.1,594.8 1689.6,598.8"/>
</g>
<g stroke="#000" stroke-width="5.8" fill="none" stroke-linecap="butt">
<path d="M194,36 V1335.3 H1806.5"/>
<path d="M194.0,1335 V1360.5"/>
<path d="M423.9,1335 V1360.5"/>
<path d="M653.9,1335 V1360.5"/>
<path d="M883.8,1335 V1360.5"/>
<path d="M1113.8,1335 V1360.5"/>
<path d="M1343.7,1335 V1360.5"/>
<path d="M1573.7,1335 V1360.5"/>
<path d="M1803.6,1335 V1360.5"/>
<path d="M309.0,1335 V1347"/>
<path d="M538.9,1335 V1347"/>
<path d="M768.9,1335 V1347"/>
<path d="M998.8,1335 V1347"/>
<path d="M1228.7,1335 V1347"/>
<path d="M1458.7,1335 V1347"/>
<path d="M1688.6,1335 V1347"/>
<path d="M168,1284.4 H194"/>
<path d="M168,869.2 H194"/>
<path d="M168,453.9 H194"/>
<path d="M168,38.7 H194"/>
<path d="M181,1076.8 H194"/>
<path d="M181,661.6 H194"/>
<path d="M181,246.3 H194"/>
</g>
<g class="tick" font-size="60">
<text x="151" y="1305.4" text-anchor="end" font-size="60" textLength="28.6" lengthAdjust="spacingAndGlyphs">0</text>
<text x="151" y="890.2" text-anchor="end" font-size="60" textLength="57.2" lengthAdjust="spacingAndGlyphs">20</text>
<text x="151" y="474.9" text-anchor="end" font-size="60" textLength="57.2" lengthAdjust="spacingAndGlyphs">40</text>
<text x="151" y="59.7" text-anchor="end" font-size="60" textLength="57.2" lengthAdjust="spacingAndGlyphs">60</text>
<text x="194.0" y="1425.5" text-anchor="middle" textLength="85.7" lengthAdjust="spacingAndGlyphs">200</text>
<text x="423.9" y="1425.5" text-anchor="middle" textLength="85.7" lengthAdjust="spacingAndGlyphs">300</text>
<text x="653.9" y="1425.5" text-anchor="middle" textLength="85.7" lengthAdjust="spacingAndGlyphs">400</text>
<text x="883.8" y="1425.5" text-anchor="middle" textLength="85.7" lengthAdjust="spacingAndGlyphs">500</text>
<text x="1113.8" y="1425.5" text-anchor="middle" textLength="85.7" lengthAdjust="spacingAndGlyphs">600</text>
<text x="1343.7" y="1425.5" text-anchor="middle" textLength="85.7" lengthAdjust="spacingAndGlyphs">700</text>
<text x="1573.7" y="1425.5" text-anchor="middle" textLength="85.7" lengthAdjust="spacingAndGlyphs">800</text>
<text x="1803.6" y="1425.5" text-anchor="middle" textLength="85.7" lengthAdjust="spacingAndGlyphs">900</text>
</g>
<text class="title" x="780" y="1515" font-size="60" textLength="435.5" lengthAdjust="spacingAndGlyphs">wavelength/nm</text>
<text class="title" x="0" y="0" font-size="60" textLength="502.5" lengthAdjust="spacingAndGlyphs" transform="translate(73,936) rotate(-90)">Transmittance/%</text>
<rect x="301.5" y="37" width="503.5" height="376" fill="none" stroke="#555" stroke-width="1.8"/>
<line x1="302" y1="67.6" x2="402" y2="67.6" stroke="#0610c0" stroke-width="4.5"/>
<text class="leg" x="426" y="85.0" font-size="43.2" textLength="299.4" lengthAdjust="spacingAndGlyphs">75% glycerol</text>
<line x1="302" y1="121.0" x2="402" y2="121.0" stroke="#5a6aff" stroke-width="4.5"/>
<text class="leg" x="426" y="138.4" font-size="43.2" textLength="299.4" lengthAdjust="spacingAndGlyphs">50% glycerol</text>
<line x1="302" y1="174.5" x2="402" y2="174.5" stroke="#2ef8f8" stroke-width="4.5"/>
<text class="leg" x="426" y="191.9" font-size="43.2" textLength="299.4" lengthAdjust="spacingAndGlyphs">25% glycerol</text>
<line x1="302" y1="228.0" x2="402" y2="228.0" stroke="#008a00" stroke-width="4.5"/>
<text class="leg" x="426" y="245.4" font-size="43.2" textLength="274.4" lengthAdjust="spacingAndGlyphs">30% glucose</text>
<line x1="302" y1="281.4" x2="402" y2="281.4" stroke="#6ef56e" stroke-width="4.5"/>
<text class="leg" x="426" y="298.8" font-size="43.2" textLength="274.4" lengthAdjust="spacingAndGlyphs">20% glucose</text>
<line x1="302" y1="334.9" x2="402" y2="334.9" stroke="#ff8012" stroke-width="4.5"/>
<text class="leg" x="426" y="352.2" font-size="43.2" textLength="376.0" lengthAdjust="spacingAndGlyphs">0.6M tartrazine</text>
<line x1="302" y1="388.3" x2="402" y2="388.3" stroke="#000000" stroke-width="4.5"/>
<text class="leg" x="426" y="405.7" font-size="43.2" textLength="124.8" lengthAdjust="spacingAndGlyphs">water</text>
</svg>
</body></html>
